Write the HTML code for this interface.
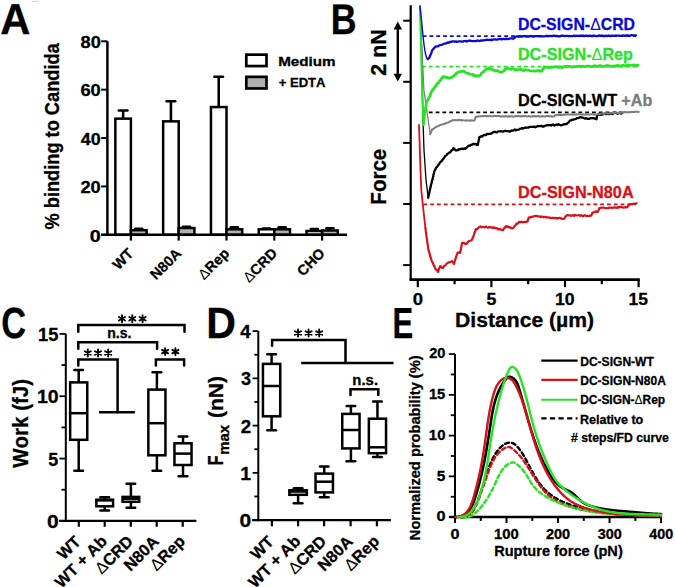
<!DOCTYPE html>
<html><head><meta charset="utf-8"><style>
html,body{margin:0;padding:0;background:#fff;}
svg{display:block;}
text{font-family:"Liberation Sans",sans-serif;font-weight:bold;font-kerning:none;}
</style></head><body>
<svg width="675" height="587" viewBox="0 0 675 587">
<rect width="675" height="587" fill="#fff"/>
<text style="text-rendering:geometricPrecision" transform="translate(1.40,33.90)" x="-1.04" y="0" font-size="43.30" textLength="30.14" lengthAdjust="spacingAndGlyphs" fill="#000" stroke="#000" stroke-width="0.3"><tspan>A</tspan></text>
<line x1="107.40" y1="41.30" x2="107.40" y2="234.80" stroke="#000" stroke-width="2.5" stroke-linecap="butt"/>
<line x1="101.20" y1="234.80" x2="107.40" y2="234.80" stroke="#000" stroke-width="2" stroke-linecap="butt"/>
<line x1="101.20" y1="186.42" x2="107.40" y2="186.42" stroke="#000" stroke-width="2" stroke-linecap="butt"/>
<line x1="101.20" y1="138.05" x2="107.40" y2="138.05" stroke="#000" stroke-width="2" stroke-linecap="butt"/>
<line x1="101.20" y1="89.67" x2="107.40" y2="89.67" stroke="#000" stroke-width="2" stroke-linecap="butt"/>
<line x1="101.20" y1="41.30" x2="107.40" y2="41.30" stroke="#000" stroke-width="2" stroke-linecap="butt"/>
<text transform="translate(90.60,241.58)" x="-0.78" y="0" font-size="17.10" textLength="10.99" lengthAdjust="spacingAndGlyphs" fill="#000" stroke="#000" stroke-width="0.3"><tspan>0</tspan></text>
<text transform="translate(81.10,193.21)" x="-0.63" y="0" font-size="17.10" textLength="20.28" lengthAdjust="spacingAndGlyphs" fill="#000" stroke="#000" stroke-width="0.3"><tspan>20</tspan></text>
<text transform="translate(81.10,144.83)" x="-0.27" y="0" font-size="17.10" textLength="19.90" lengthAdjust="spacingAndGlyphs" fill="#000" stroke="#000" stroke-width="0.3"><tspan>40</tspan></text>
<text transform="translate(81.10,96.45)" x="-0.67" y="0" font-size="17.10" textLength="20.32" lengthAdjust="spacingAndGlyphs" fill="#000" stroke="#000" stroke-width="0.3"><tspan>60</tspan></text>
<text transform="translate(81.10,48.08)" x="-0.58" y="0" font-size="17.10" textLength="20.22" lengthAdjust="spacingAndGlyphs" fill="#000" stroke="#000" stroke-width="0.3"><tspan>80</tspan></text>
<text transform="translate(58.50,229.00) rotate(-90)" x="-0.45" y="0" font-size="19.70" textLength="186.14" lengthAdjust="spacingAndGlyphs" fill="#000" stroke="#000" stroke-width="0.3"><tspan>% binding to Candida</tspan></text>
<rect x="115.35" y="118.65" width="15.55" height="116.15" fill="#fff" stroke="#000" stroke-width="2.5"/>
<rect x="130.90" y="230.20" width="15.70" height="4.60" fill="#b0b0b0" stroke="#000" stroke-width="2.5"/>
<line x1="123.12" y1="118.65" x2="123.12" y2="110.50" stroke="#000" stroke-width="2.6" stroke-linecap="butt"/>
<line x1="118.83" y1="110.50" x2="127.42" y2="110.50" stroke="#000" stroke-width="2.6" stroke-linecap="round"/>
<line x1="135.25" y1="228.90" x2="142.25" y2="228.90" stroke="#000" stroke-width="2.6" stroke-linecap="round"/>
<line x1="138.75" y1="230.20" x2="138.75" y2="228.90" stroke="#000" stroke-width="2.6" stroke-linecap="butt"/>
<rect x="163.15" y="121.35" width="15.55" height="113.45" fill="#fff" stroke="#000" stroke-width="2.5"/>
<rect x="178.70" y="228.00" width="15.70" height="6.80" fill="#b0b0b0" stroke="#000" stroke-width="2.5"/>
<line x1="170.92" y1="121.35" x2="170.92" y2="101.20" stroke="#000" stroke-width="2.6" stroke-linecap="butt"/>
<line x1="166.62" y1="101.20" x2="175.22" y2="101.20" stroke="#000" stroke-width="2.6" stroke-linecap="round"/>
<line x1="183.05" y1="226.90" x2="190.05" y2="226.90" stroke="#000" stroke-width="2.6" stroke-linecap="round"/>
<line x1="186.55" y1="228.00" x2="186.55" y2="226.90" stroke="#000" stroke-width="2.6" stroke-linecap="butt"/>
<rect x="210.95" y="107.05" width="15.55" height="127.75" fill="#fff" stroke="#000" stroke-width="2.5"/>
<rect x="226.50" y="229.30" width="15.70" height="5.50" fill="#b0b0b0" stroke="#000" stroke-width="2.5"/>
<line x1="218.72" y1="107.05" x2="218.72" y2="76.80" stroke="#000" stroke-width="2.6" stroke-linecap="butt"/>
<line x1="214.42" y1="76.80" x2="223.03" y2="76.80" stroke="#000" stroke-width="2.6" stroke-linecap="round"/>
<line x1="230.85" y1="227.30" x2="237.85" y2="227.30" stroke="#000" stroke-width="2.6" stroke-linecap="round"/>
<line x1="234.35" y1="229.30" x2="234.35" y2="227.30" stroke="#000" stroke-width="2.6" stroke-linecap="butt"/>
<rect x="258.75" y="229.30" width="15.55" height="5.50" fill="#fff" stroke="#000" stroke-width="2.5"/>
<rect x="274.30" y="229.30" width="15.70" height="5.50" fill="#b0b0b0" stroke="#000" stroke-width="2.5"/>
<line x1="266.52" y1="229.30" x2="266.52" y2="228.60" stroke="#000" stroke-width="2.6" stroke-linecap="butt"/>
<line x1="263.02" y1="228.60" x2="270.02" y2="228.60" stroke="#000" stroke-width="2.6" stroke-linecap="round"/>
<line x1="278.65" y1="227.30" x2="285.65" y2="227.30" stroke="#000" stroke-width="2.6" stroke-linecap="round"/>
<line x1="282.15" y1="229.30" x2="282.15" y2="227.30" stroke="#000" stroke-width="2.6" stroke-linecap="butt"/>
<rect x="306.55" y="231.00" width="15.55" height="3.80" fill="#fff" stroke="#000" stroke-width="2.5"/>
<rect x="322.10" y="230.50" width="15.70" height="4.30" fill="#b0b0b0" stroke="#000" stroke-width="2.5"/>
<line x1="314.33" y1="231.00" x2="314.33" y2="229.00" stroke="#000" stroke-width="2.6" stroke-linecap="butt"/>
<line x1="310.83" y1="229.00" x2="317.83" y2="229.00" stroke="#000" stroke-width="2.6" stroke-linecap="round"/>
<line x1="326.45" y1="228.20" x2="333.45" y2="228.20" stroke="#000" stroke-width="2.6" stroke-linecap="round"/>
<line x1="329.95" y1="230.50" x2="329.95" y2="228.20" stroke="#000" stroke-width="2.6" stroke-linecap="butt"/>
<line x1="101.20" y1="234.80" x2="347.00" y2="234.80" stroke="#000" stroke-width="2.5" stroke-linecap="butt"/>
<line x1="130.90" y1="234.80" x2="130.90" y2="240.60" stroke="#000" stroke-width="2.2" stroke-linecap="butt"/>
<line x1="178.70" y1="234.80" x2="178.70" y2="240.60" stroke="#000" stroke-width="2.2" stroke-linecap="butt"/>
<line x1="226.50" y1="234.80" x2="226.50" y2="240.60" stroke="#000" stroke-width="2.2" stroke-linecap="butt"/>
<line x1="274.30" y1="234.80" x2="274.30" y2="240.60" stroke="#000" stroke-width="2.2" stroke-linecap="butt"/>
<line x1="322.10" y1="234.80" x2="322.10" y2="240.60" stroke="#000" stroke-width="2.2" stroke-linecap="butt"/>
<text transform="translate(134.20,254.60) rotate(-45)" x="-22.39" y="0" font-size="14.50" textLength="22.54" lengthAdjust="spacingAndGlyphs" fill="#000" stroke="#000" stroke-width="0.3"><tspan>WT</tspan></text>
<text transform="translate(182.00,254.60) rotate(-45)" x="-36.69" y="0" font-size="14.50" textLength="37.07" lengthAdjust="spacingAndGlyphs" fill="#000" stroke="#000" stroke-width="0.3"><tspan>N80A</tspan></text>
<text transform="translate(229.80,254.60) rotate(-45)" x="-36.48" y="0" font-size="14.50" textLength="37.08" lengthAdjust="spacingAndGlyphs" fill="#000" stroke="#000" stroke-width="0.3"><tspan font-weight="normal" stroke-width="0.05">Δ</tspan><tspan>Rep</tspan></text>
<text transform="translate(277.60,254.60) rotate(-45)" x="-40.49" y="0" font-size="14.50" textLength="41.10" lengthAdjust="spacingAndGlyphs" fill="#000" stroke="#000" stroke-width="0.3"><tspan font-weight="normal" stroke-width="0.05">Δ</tspan><tspan>CRD</tspan></text>
<text transform="translate(325.40,254.60) rotate(-45)" x="-31.61" y="0" font-size="14.50" textLength="32.22" lengthAdjust="spacingAndGlyphs" fill="#000" stroke="#000" stroke-width="0.3"><tspan>CHO</tspan></text>
<rect x="246.30" y="54.65" width="20.20" height="11.40" fill="#fff" stroke="#000" stroke-width="2.7"/>
<rect x="246.30" y="76.85" width="20.20" height="11.60" fill="#b0b0b0" stroke="#000" stroke-width="2.7"/>
<text transform="translate(279.20,65.90)" x="-1.02" y="0" font-size="12.90" textLength="57.46" lengthAdjust="spacingAndGlyphs" fill="#000" stroke="#000" stroke-width="0.3"><tspan>Medium</tspan></text>
<text transform="translate(279.20,87.40)" x="-0.55" y="0" font-size="12.90" textLength="46.89" lengthAdjust="spacingAndGlyphs" fill="#000" stroke="#000" stroke-width="0.3"><tspan>+ EDTA</tspan></text>
<line x1="32.00" y1="1.50" x2="38.20" y2="1.50" stroke="#cfcfcf" stroke-width="1" stroke-linecap="butt"/>
<text style="text-rendering:geometricPrecision" transform="translate(333.10,33.70)" x="-2.39" y="0" font-size="43.00" textLength="25.81" lengthAdjust="spacingAndGlyphs" fill="#000" stroke="#000" stroke-width="0.3"><tspan>B</tspan></text>
<line x1="410.70" y1="5.20" x2="410.70" y2="280.60" stroke="#000" stroke-width="2.2" stroke-linecap="butt"/>
<line x1="403.20" y1="20.70" x2="410.70" y2="20.70" stroke="#000" stroke-width="2" stroke-linecap="butt"/>
<line x1="403.20" y1="81.80" x2="410.70" y2="81.80" stroke="#000" stroke-width="2" stroke-linecap="butt"/>
<line x1="403.20" y1="142.90" x2="410.70" y2="142.90" stroke="#000" stroke-width="2" stroke-linecap="butt"/>
<line x1="403.20" y1="204.00" x2="410.70" y2="204.00" stroke="#000" stroke-width="2" stroke-linecap="butt"/>
<line x1="403.20" y1="265.10" x2="410.70" y2="265.10" stroke="#000" stroke-width="2" stroke-linecap="butt"/>
<line x1="409.60" y1="279.60" x2="639.80" y2="279.60" stroke="#000" stroke-width="2.6" stroke-linecap="butt"/>
<line x1="417.80" y1="279.60" x2="417.80" y2="287.20" stroke="#000" stroke-width="2.2" stroke-linecap="butt"/>
<line x1="454.60" y1="279.60" x2="454.60" y2="284.20" stroke="#000" stroke-width="2.2" stroke-linecap="butt"/>
<line x1="491.40" y1="279.60" x2="491.40" y2="287.20" stroke="#000" stroke-width="2.2" stroke-linecap="butt"/>
<line x1="528.20" y1="279.60" x2="528.20" y2="284.20" stroke="#000" stroke-width="2.2" stroke-linecap="butt"/>
<line x1="565.00" y1="279.60" x2="565.00" y2="287.20" stroke="#000" stroke-width="2.2" stroke-linecap="butt"/>
<line x1="601.80" y1="279.60" x2="601.80" y2="284.20" stroke="#000" stroke-width="2.2" stroke-linecap="butt"/>
<line x1="638.60" y1="279.60" x2="638.60" y2="287.20" stroke="#000" stroke-width="2.2" stroke-linecap="butt"/>
<text transform="translate(413.40,304.60)" x="-0.73" y="0" font-size="17.00" textLength="10.29" lengthAdjust="spacingAndGlyphs" fill="#000" stroke="#000" stroke-width="0.3"><tspan>0</tspan></text>
<text transform="translate(487.00,304.60)" x="-0.54" y="0" font-size="17.00" textLength="9.84" lengthAdjust="spacingAndGlyphs" fill="#000" stroke="#000" stroke-width="0.3"><tspan>5</tspan></text>
<text transform="translate(556.10,304.60)" x="-1.11" y="0" font-size="17.00" textLength="19.64" lengthAdjust="spacingAndGlyphs" fill="#000" stroke="#000" stroke-width="0.3"><tspan>10</tspan></text>
<text transform="translate(629.70,304.60)" x="-1.10" y="0" font-size="17.00" textLength="19.38" lengthAdjust="spacingAndGlyphs" fill="#000" stroke="#000" stroke-width="0.3"><tspan>15</tspan></text>
<text transform="translate(456.50,327.00)" x="-1.41" y="0" font-size="20.30" textLength="138.97" lengthAdjust="spacingAndGlyphs" fill="#000" stroke="#000" stroke-width="0.3"><tspan>Distance (µm)</tspan></text>
<text transform="translate(386.00,203.30) rotate(-90)" x="-1.38" y="0" font-size="22.20" textLength="55.98" lengthAdjust="spacingAndGlyphs" fill="#000" stroke="#000" stroke-width="0.3"><tspan>Force</tspan></text>
<text transform="translate(386.00,74.90) rotate(-90)" x="-0.74" y="0" font-size="22.00" textLength="46.17" lengthAdjust="spacingAndGlyphs" fill="#000" stroke="#000" stroke-width="0.3"><tspan>2 nN</tspan></text>
<line x1="397.80" y1="27.00" x2="397.80" y2="76.00" stroke="#000" stroke-width="2.4" stroke-linecap="butt"/>
<path d="M397.8,21.6 L393.6,29.5 L402.0,29.5 Z M397.8,81.6 L393.6,73.7 L402.0,73.7 Z" fill="#000"/>
<line x1="422.70" y1="36.10" x2="636.00" y2="36.10" stroke="#0a0ad2" stroke-width="1.8" stroke-linecap="butt" stroke-dasharray="3.8 3"/>
<line x1="422.00" y1="66.60" x2="638.00" y2="66.60" stroke="#26e326" stroke-width="1.8" stroke-linecap="butt" stroke-dasharray="3.8 3"/>
<line x1="422.00" y1="112.40" x2="622.40" y2="112.40" stroke="#000" stroke-width="1.8" stroke-linecap="butt" stroke-dasharray="3.8 3"/>
<line x1="423.40" y1="204.40" x2="636.00" y2="204.40" stroke="#d8101a" stroke-width="1.8" stroke-linecap="butt" stroke-dasharray="3.8 3"/>
<polyline fill="none" stroke="#000" stroke-width="1.3" stroke-linejoin="round" stroke-linecap="round" points="420.00,6.10 422.00,60.00 422.70,112.00 424.00,150.00 426.00,180.00 428.20,197.70"/>
<polyline fill="none" stroke="#000" stroke-width="2.3" stroke-linejoin="round" stroke-linecap="round" points="428.20,197.70 428.46,196.35 428.72,195.00 428.98,194.46 429.24,192.63 429.50,192.04 429.73,190.81 429.97,189.40 430.20,188.91 430.43,187.31 430.67,186.75 430.90,185.28 431.13,184.28 431.37,183.64 431.60,183.09 431.85,181.26 432.09,180.39 432.34,179.88 432.58,179.27 432.83,177.84 433.07,176.63 433.32,176.34 433.56,174.23 433.81,174.21 434.05,172.54 434.30,171.37 434.73,170.39 435.15,169.67 435.57,169.33 436.00,167.62 436.80,167.10 437.60,166.17 438.40,164.85 439.08,164.24 439.76,162.84 440.44,162.01 441.12,161.37 441.80,161.12 442.48,159.90 443.17,158.84 443.85,158.25 444.53,157.18 445.22,156.08 445.90,155.75 446.72,154.96 447.54,153.73 448.36,153.45 449.18,152.71 450.00,152.45 450.85,151.43 451.70,150.05 452.55,150.03 453.40,148.14 454.53,149.20 455.67,150.31 456.80,150.28 457.82,150.16 458.85,149.10 459.88,149.33 460.90,148.92 462.07,148.69 463.25,149.05 464.43,148.38 465.60,148.83 466.45,147.86 467.30,147.00 468.15,146.00 469.00,145.61 470.13,145.50 471.27,144.70 472.40,144.70 473.53,143.74 474.67,144.28 475.80,143.98 476.85,144.74 477.90,144.89 478.13,143.11 478.37,142.10 478.60,141.30 478.83,139.39 479.07,138.79 479.30,137.30 480.25,136.79 481.20,136.27 482.15,136.67 483.10,135.46 484.05,135.15 485.00,134.87 485.98,135.14 486.96,133.88 487.94,134.01 488.92,133.82 489.90,133.91 490.88,133.52 491.86,133.27 492.84,132.25 493.82,132.11 494.80,131.73 495.86,132.30 496.91,132.33 497.97,131.31 499.03,131.28 500.09,131.29 501.14,131.24 502.20,131.48 503.26,131.55 504.31,131.10 505.37,130.73 506.43,131.17 507.49,131.06 508.54,131.24 509.60,131.64 510.64,131.11 511.68,130.68 512.72,130.58 513.76,130.43 514.80,129.46 515.84,130.26 516.88,129.90 517.92,129.79 518.96,129.48 520.00,128.77 521.02,128.64 522.04,128.15 523.06,128.65 524.08,127.82 525.09,127.69 526.11,127.73 527.13,127.53 528.15,127.61 529.17,127.13 530.19,126.93 531.21,126.97 532.22,126.77 533.24,126.95 534.26,126.41 535.28,127.29 536.30,126.84 537.36,126.17 538.41,126.19 539.47,126.20 540.53,126.11 541.59,125.71 542.64,126.48 543.70,126.54 544.76,125.80 545.81,125.72 546.87,125.13 547.93,125.04 548.99,125.23 550.04,125.02 551.10,125.59 552.16,124.74 553.21,124.51 554.27,125.57 555.33,125.01 556.39,124.49 557.44,124.91 558.50,124.23 559.56,124.78 560.61,125.26 561.67,125.06 562.73,124.81 563.79,124.23 564.84,124.30 565.90,124.00 566.76,124.00 567.61,122.98 568.47,122.55 569.33,121.28 570.19,120.42 571.04,120.40 571.90,119.88 572.91,119.54 573.92,119.29 574.94,119.12 575.95,118.84 576.96,118.03 577.98,118.20 578.99,117.81 580.00,117.23 581.03,117.30 582.06,117.66 583.09,117.70 584.12,118.28 585.16,118.66 586.19,118.11 587.22,118.76 588.25,118.89 589.28,118.91 590.31,118.26 591.34,118.15 592.38,118.22 593.41,118.25 594.44,118.32 595.47,118.89 596.50,119.28 596.67,118.21 596.85,116.78 597.03,115.98 597.20,115.16 598.30,114.18 599.40,114.74 600.50,114.92 601.60,114.64 602.70,114.48 603.80,114.02 604.90,113.54 606.00,114.15 607.02,113.54 608.05,114.05 609.08,114.20 610.10,113.45 611.12,113.40 612.15,114.00 613.17,113.68 614.20,112.95 615.23,112.85 616.25,112.82 617.27,113.67 618.30,113.49 619.32,112.64 620.35,113.40 621.38,113.53 622.40,112.90"/>
<polyline fill="none" stroke="#7c7c7c" stroke-width="1.3" stroke-linejoin="round" stroke-linecap="round" points="420.00,6.10 421.50,40.00 423.90,90.00 427.00,112.00 430.20,134.20"/>
<polyline fill="none" stroke="#7c7c7c" stroke-width="2" stroke-linejoin="round" stroke-linecap="round" points="430.20,134.20 430.60,133.37 431.00,132.22 431.40,131.41 431.80,130.18 432.20,129.16 433.13,129.16 434.07,128.27 435.00,127.52 435.90,127.30 436.80,126.45 437.70,126.26 438.80,125.89 439.90,125.13 441.00,124.83 441.98,124.54 442.96,124.18 443.94,124.10 444.92,123.55 445.90,123.34 446.93,122.68 447.97,122.75 449.00,121.90 449.93,121.47 450.85,121.06 451.77,120.78 452.70,119.94 453.74,120.34 454.79,120.09 455.83,120.15 456.87,120.19 457.91,119.88 458.96,120.22 460.00,120.08 461.00,119.98 462.00,120.56 463.00,120.15 464.00,120.38 465.00,120.58 466.00,120.49 467.00,120.35 468.00,120.51 469.08,120.56 470.17,120.73 471.25,120.27 472.33,120.61 473.42,120.41 474.50,120.44 474.82,119.77 475.15,118.56 475.48,117.57 475.80,116.68 476.82,116.72 477.84,116.33 478.87,116.38 479.89,116.24 480.91,116.18 481.93,116.23 482.96,116.00 483.98,115.99 485.00,115.88 486.00,116.24 487.00,116.09 488.00,116.24 489.00,116.32 490.00,115.87 491.00,116.10 492.00,116.40 493.00,116.35 494.00,115.89 495.00,115.90 496.00,116.15 497.00,115.92 498.00,116.07 499.00,115.97 500.00,116.42 501.00,116.50 502.00,116.58 503.00,116.06 504.00,116.45 505.00,116.41 506.00,116.05 507.00,116.57 508.00,116.63 509.00,116.10 510.00,116.62 511.00,116.23 512.00,116.29 513.00,116.64 514.00,116.53 515.00,116.06 516.00,116.25 517.00,116.31 518.00,116.19 519.00,116.09 520.00,116.17 521.00,116.46 522.00,115.96 523.00,116.34 524.00,116.26 525.00,115.96 526.00,116.18 527.00,116.39 528.00,116.31 529.00,116.00 530.00,116.64 531.00,116.50 532.00,116.63 533.00,116.02 534.00,116.14 535.00,115.98 536.00,116.50 537.00,116.14 538.00,116.04 539.00,116.25 540.00,116.59 541.00,116.52 542.00,116.13 543.00,116.05 544.00,116.59 545.00,116.35 546.00,116.44 547.00,116.01 548.00,115.99 549.00,116.43 550.00,116.25 551.00,116.00 552.00,116.61 553.00,116.39 554.00,116.51 555.00,115.36 556.00,115.25 557.00,114.68 558.00,115.21 559.00,114.91 560.00,114.80 561.00,114.93 562.00,115.17 563.00,114.69 564.00,114.57 565.00,114.83 566.00,114.61 567.00,114.50 568.00,114.51 569.00,114.41 570.00,114.50 571.00,114.56 572.00,114.53 573.00,114.83 574.00,114.48 575.00,114.60 576.00,114.36 577.00,114.46 578.00,114.20 579.00,114.35 580.00,114.16 581.00,114.65 582.00,114.51 583.00,114.25 584.00,114.44 585.00,114.75 586.00,114.15 587.00,114.64 588.00,114.36 589.00,114.39 590.00,114.62 591.00,114.30 592.00,114.36 593.00,114.48 594.00,114.67 595.00,114.21 596.00,114.54 597.00,114.44 598.00,114.31 599.00,114.06 600.00,113.94 601.00,113.65 602.00,113.62 603.00,113.49 604.00,113.88 605.00,113.45 606.00,113.30 607.00,113.16 608.00,113.61 609.00,113.54 610.00,113.32 611.00,112.99 612.00,112.91 613.00,112.90 614.00,112.96 615.00,112.69 616.00,112.84 617.00,112.66 618.00,113.10 619.00,113.05 620.00,112.70 621.00,112.43 622.00,112.89 623.00,112.37 624.00,112.35 625.00,112.05 626.05,112.28 627.11,112.31 628.16,112.29 629.22,112.04 630.27,112.21 631.32,111.82 632.38,111.97 633.43,111.81 634.48,111.98 635.54,111.69 636.59,111.64 637.65,111.80 638.70,111.90"/>
<polyline fill="none" stroke="#26e326" stroke-width="2" stroke-linejoin="round" stroke-linecap="round" points="420.00,6.10 421.30,60.00 422.50,100.00 423.40,124.70"/>
<polyline fill="none" stroke="#26e326" stroke-width="2.7" stroke-linejoin="round" stroke-linecap="round" points="423.40,124.70 423.52,123.30 423.64,122.65 423.77,121.50 423.89,120.69 424.01,119.50 424.13,118.49 424.26,117.61 424.38,115.95 424.50,114.79 424.65,114.58 424.80,112.58 424.95,112.27 425.10,111.17 425.25,109.45 425.40,109.40 425.55,108.47 425.70,107.15 425.85,106.28 426.00,105.37 426.20,103.54 426.40,102.98 426.60,101.93 426.80,101.30 427.47,100.33 428.13,99.43 428.80,98.20 429.24,97.55 429.68,96.28 430.12,95.27 430.56,93.70 431.00,92.44 431.52,91.68 432.04,91.07 432.56,89.89 433.08,89.88 433.60,88.67 434.40,87.72 435.20,86.68 436.00,85.72 436.75,84.56 437.50,83.05 438.25,83.08 439.00,82.10 439.67,81.00 440.33,80.24 441.00,79.59 441.67,78.08 442.33,78.08 443.00,76.70 444.00,76.61 445.00,76.97 446.00,77.65 447.00,77.15 448.07,77.84 449.15,78.17 450.23,77.64 451.30,77.56 452.23,76.87 453.15,76.32 454.07,75.62 455.00,74.64 455.90,74.09 456.80,72.83 457.70,72.34 458.60,71.88 459.50,71.89 460.52,71.37 461.55,71.68 462.58,71.01 463.60,71.07 464.57,71.71 465.54,72.58 466.51,72.99 467.49,73.35 468.46,73.28 469.43,73.93 470.40,74.26 471.42,74.51 472.45,74.34 473.48,75.52 474.50,74.94 475.52,76.12 476.55,76.32 477.58,75.47 478.60,76.25 479.40,75.92 480.20,75.34 481.00,73.95 481.80,72.97 482.60,72.14 483.40,72.26 484.20,70.62 485.00,70.30 486.00,69.22 487.00,69.13 488.00,69.09 489.00,67.56 490.00,68.80 491.00,68.84 492.00,69.71 493.00,69.91 494.00,69.76 495.00,70.98 496.00,70.78 497.00,70.53 498.00,70.80 499.00,71.69 500.00,71.94 501.00,72.06 502.00,72.17 502.78,71.66 503.57,70.88 504.35,70.76 505.13,69.00 505.92,69.15 506.70,68.51 507.74,67.82 508.77,68.96 509.81,68.88 510.85,69.28 511.89,68.72 512.92,69.00 513.96,69.20 515.00,70.10 516.00,69.67 517.00,69.47 518.00,69.61 519.00,69.50 520.00,69.29 521.00,69.42 522.00,70.37 523.00,69.78 524.00,70.62 525.00,69.87 526.00,69.95 527.00,70.31 528.00,69.99 529.00,70.28 530.00,71.05 531.00,71.00 532.00,70.96 533.00,70.78 534.00,71.16 535.00,71.24 536.00,70.81 537.00,71.06 538.00,70.29 539.00,71.15 540.00,70.86 541.00,71.26 542.00,71.17 542.50,69.84 543.00,68.66 543.50,68.81 544.00,66.95 545.00,67.34 546.00,67.16 547.00,67.08 548.00,67.59 549.00,67.85 550.00,66.96 551.00,67.41 552.00,66.96 553.00,67.24 554.00,67.02 555.00,66.73 556.00,66.69 557.00,66.72 558.00,67.54 559.00,67.02 560.00,66.66 561.00,67.46 562.00,67.55 563.00,66.86 564.00,66.47 565.00,66.51 566.00,66.36 567.00,66.64 568.00,66.31 569.00,66.46 570.00,66.46 571.00,66.81 572.00,67.16 573.00,66.97 574.00,66.55 575.00,66.52 576.00,66.63 577.00,66.43 578.00,66.36 579.00,66.00 580.00,66.23 581.00,67.04 582.00,66.00 583.00,66.43 584.00,66.56 585.00,66.81 586.00,66.01 587.00,66.05 588.00,66.00 589.00,66.15 590.00,66.19 591.00,66.77 592.00,66.62 593.00,66.62 594.00,65.58 595.00,65.56 596.00,66.35 597.00,66.55 598.00,66.02 599.00,66.13 600.00,65.40 601.00,65.86 602.00,66.49 603.00,66.36 604.00,66.39 605.00,66.52 606.00,65.64 607.00,65.46 608.00,65.51 609.00,65.94 610.00,66.12 611.00,66.42 612.00,66.15 613.00,66.05 614.00,66.18 615.00,65.80 616.00,65.90 617.00,65.28 618.00,66.16 619.00,65.49 620.00,66.30 621.00,65.94 622.00,65.50 623.00,65.25 624.00,65.37 625.00,65.80 626.00,65.84 627.00,65.10 628.00,65.02 629.00,65.53 630.00,65.57 631.00,65.30 632.00,65.07 633.00,65.49 634.00,64.75 635.00,65.06 636.00,65.22 637.00,65.78 638.00,65.20"/>
<polyline fill="none" stroke="#0a0ad2" stroke-width="1.4" stroke-linejoin="round" stroke-linecap="round" points="420.00,6.10 421.50,20.00 423.00,36.00 424.20,46.00 425.30,53.00 426.50,57.50 427.70,59.00"/>
<polyline fill="none" stroke="#0a0ad2" stroke-width="2.3" stroke-linejoin="round" stroke-linecap="round" points="427.70,59.00 429.00,58.10 429.50,57.27 430.00,55.98 430.50,54.81 430.88,53.82 431.25,53.32 431.62,52.14 432.00,50.87 432.67,49.67 433.33,49.00 434.00,48.12 435.00,47.19 436.00,46.33 437.00,46.37 438.00,46.30 439.00,45.56 440.00,45.17 441.00,44.99 442.00,44.64 443.00,44.43 444.00,43.69 445.00,43.71 446.05,43.35 447.10,42.87 448.15,42.34 449.20,42.56 450.25,41.78 451.30,41.82 452.39,41.40 453.48,41.38 454.56,41.74 455.65,41.41 456.74,41.85 457.82,41.52 458.91,41.29 460.00,41.31 461.00,41.39 462.00,41.52 463.00,41.66 464.00,41.05 465.00,41.18 466.00,41.00 467.00,41.48 468.00,40.85 469.00,40.74 470.00,40.69 471.00,40.90 472.00,41.22 473.00,41.18 474.00,41.04 475.00,41.20 476.00,41.12 477.00,40.67 478.00,40.54 479.00,41.04 480.00,40.87 481.06,40.29 482.11,40.64 483.17,40.36 484.23,40.27 485.29,40.15 486.34,39.95 487.40,39.75 488.46,39.86 489.51,39.82 490.57,40.16 491.63,39.49 492.69,40.00 493.74,39.38 494.80,39.40 495.82,39.68 496.84,39.63 497.86,39.30 498.88,38.98 499.90,39.23 500.92,39.11 501.94,39.44 502.96,38.89 503.98,38.95 505.00,39.28 506.00,38.62 507.00,38.83 508.00,39.05 509.00,38.96 510.00,38.40 511.00,38.34 512.00,38.30 513.00,38.85 514.00,38.33 514.75,37.67 515.50,36.78 516.54,36.37 517.57,36.31 518.61,36.78 519.64,36.52 520.68,36.26 521.71,36.57 522.75,36.27 523.79,36.23 524.82,36.02 525.86,36.54 526.89,36.63 527.93,36.42 528.96,36.62 530.00,35.97 531.00,36.10 532.00,36.26 533.00,36.59 534.00,36.58 535.00,36.17 536.00,36.07 537.00,36.18 538.00,36.22 539.00,36.51 540.00,35.98 541.00,36.40 542.00,36.35 543.00,36.40 544.00,36.35 545.00,36.23 546.00,36.02 547.00,36.00 548.00,36.02 549.00,36.31 550.00,35.81 551.00,35.88 552.00,36.26 553.00,35.89 554.00,35.76 555.00,35.72 556.00,36.08 557.00,35.91 558.00,36.36 559.00,36.28 560.00,36.34 561.00,35.83 562.00,35.70 563.00,35.70 564.00,35.97 565.00,36.11 566.00,35.92 567.00,35.77 568.00,35.89 569.00,36.02 570.00,36.06 571.00,36.10 572.00,36.16 573.00,36.03 574.00,35.64 575.00,36.14 576.00,35.75 577.00,35.93 578.00,35.79 579.00,36.04 580.00,35.66 581.00,35.68 582.00,35.68 583.00,35.60 584.00,36.11 585.00,35.89 586.00,35.71 587.00,35.75 588.00,36.16 589.00,35.81 590.00,35.61 591.00,36.02 592.00,35.91 593.00,36.14 594.00,35.52 595.00,35.78 596.00,36.02 597.00,36.04 598.00,36.09 599.00,35.48 600.00,35.66 601.00,35.53 602.00,35.58 603.00,36.13 604.00,35.86 605.00,36.10 606.00,35.71 607.00,36.06 608.00,35.76 609.00,35.63 610.00,35.99 611.00,36.11 612.00,35.52 613.00,35.87 614.00,35.88 615.00,35.60 616.00,35.71 617.00,35.55 618.00,35.59 619.00,35.63 620.00,35.87 621.00,35.88 622.00,35.54 623.00,35.38 624.00,35.58 625.00,35.80 626.00,35.43 627.00,35.49 628.00,35.39 629.00,35.78 630.00,35.58 631.00,35.22 632.00,35.22 633.00,35.40 634.00,35.49 635.00,35.52 636.00,35.40"/>
<polyline fill="none" stroke="#d8101a" stroke-width="1.8" stroke-linejoin="round" stroke-linecap="round" points="419.00,125.00 420.50,170.00 421.30,190.00 422.70,203.60 425.40,228.10"/>
<polyline fill="none" stroke="#d8101a" stroke-width="2.2" stroke-linejoin="round" stroke-linecap="round" points="425.40,228.10 425.54,228.68 425.68,229.78 425.82,231.39 425.96,232.10 426.10,232.99 426.24,234.04 426.38,235.77 426.52,236.09 426.66,237.40 426.80,238.19 426.94,239.28 427.08,240.80 427.22,241.97 427.36,242.30 427.50,243.14 427.64,244.75 427.78,245.20 427.92,246.01 428.06,248.02 428.20,248.52 428.48,249.97 428.77,250.53 429.05,252.07 429.33,252.62 429.62,253.31 429.90,254.17 430.18,255.77 430.47,256.89 430.75,258.20 431.03,258.31 431.32,259.92 431.60,260.66 432.06,261.72 432.51,262.23 432.97,263.29 433.42,264.47 433.88,265.82 434.33,265.84 434.79,267.17 435.24,268.42 435.70,269.51 436.43,269.53 437.17,270.32 437.90,272.09 438.32,271.12 438.73,269.58 439.15,268.11 439.57,268.07 439.98,266.48 440.40,266.04 441.10,266.63 441.80,267.76 442.50,267.93 443.18,267.81 443.86,266.39 444.54,265.79 445.22,265.48 445.90,264.66 446.93,263.35 447.97,262.79 449.00,262.39 450.00,262.19 451.00,261.71 452.00,261.09 453.00,262.27 454.00,263.85 454.32,263.05 454.64,261.11 454.95,260.70 455.27,259.92 455.59,258.14 455.91,258.03 456.23,256.24 456.55,255.78 456.86,254.74 457.18,253.83 457.50,252.49 458.85,252.61 460.20,252.79 460.40,251.60 460.60,250.83 460.80,249.58 461.00,248.55 461.20,247.08 461.40,246.71 461.60,245.55 461.80,244.25 462.00,243.81 462.20,242.81 463.23,242.95 464.25,243.15 465.27,243.97 466.30,244.07 466.98,243.24 467.65,242.72 468.32,241.50 469.00,241.04 470.40,240.76 471.80,239.89 472.23,239.42 472.67,237.67 473.10,237.26 473.49,236.23 473.87,234.87 474.26,233.30 474.64,232.72 475.03,231.51 475.41,231.07 475.80,229.10 476.68,229.22 477.55,228.70 478.43,227.73 479.30,227.15 480.44,226.46 481.58,227.33 482.72,226.79 483.86,227.30 485.00,227.26 486.09,226.54 487.18,227.34 488.27,227.61 489.36,226.77 490.44,227.19 491.53,227.75 492.62,227.20 493.71,228.13 494.80,227.55 495.82,228.47 496.85,228.06 497.88,228.78 498.90,229.56 499.93,229.10 500.95,229.49 501.98,230.08 503.00,230.20 503.58,229.01 504.16,228.29 504.74,227.39 505.32,227.36 505.90,226.20 506.86,226.79 507.81,226.35 508.77,227.38 509.73,227.01 510.69,227.82 511.64,228.29 512.60,228.35 513.35,227.99 514.10,226.71 514.85,225.81 515.60,225.22 516.52,223.64 517.45,223.89 518.38,222.77 519.30,221.78 520.31,222.23 521.32,221.64 522.34,222.44 523.35,221.99 524.36,221.75 525.38,222.19 526.39,221.84 527.40,221.54 527.70,221.21 528.00,219.48 528.30,219.37 528.60,217.79 528.90,217.25 530.01,217.52 531.12,216.97 532.24,216.94 533.35,216.44 534.46,215.99 535.57,215.91 536.69,215.93 537.80,216.33 538.79,216.29 539.78,216.55 540.77,217.14 541.76,216.46 542.74,216.73 543.73,217.37 544.72,216.84 545.71,216.99 546.70,217.54 547.74,217.32 548.78,217.65 549.82,217.56 550.86,218.00 551.91,218.06 552.95,217.69 553.99,218.21 555.03,218.10 556.07,217.77 557.11,218.71 558.15,218.00 559.19,217.95 560.24,217.94 561.28,218.59 562.32,218.90 563.36,218.86 564.40,218.49 564.98,217.49 565.55,216.36 566.12,216.21 566.70,215.27 567.72,215.07 568.75,215.42 569.77,215.23 570.79,215.80 571.82,215.61 572.84,215.11 573.86,215.86 574.88,214.94 575.91,215.51 576.93,215.40 577.95,215.25 578.98,215.08 580.00,215.91 581.03,215.09 582.05,215.71 583.08,216.17 584.11,215.32 585.14,215.41 586.16,215.88 587.19,215.80 588.22,215.97 589.25,216.19 590.27,215.51 591.30,215.69 591.80,214.45 592.30,212.94 592.80,212.63 593.84,212.37 594.88,212.16 595.92,211.24 596.96,212.02 598.00,211.77 598.47,210.36 598.93,209.57 599.40,208.15 600.41,207.86 601.41,207.68 602.42,207.78 603.43,207.52 604.44,207.80 605.44,208.22 606.45,208.11 607.46,208.24 608.46,208.05 609.47,207.51 610.48,207.79 611.49,207.62 612.49,207.96 613.50,207.63 614.51,207.30 615.51,207.67 616.52,207.98 617.53,207.12 618.54,207.80 619.54,206.81 620.55,207.04 621.56,206.97 622.56,207.48 623.57,207.66 624.58,207.40 625.59,206.90 626.59,207.46 627.60,206.81 628.10,205.75 628.60,205.51 629.10,204.24 630.16,204.20 631.21,204.05 632.27,204.28 633.33,203.61 634.39,203.90 635.44,203.63 636.50,203.30"/>
<text transform="translate(519.00,29.70)" x="-1.06" y="0" font-size="17.10" textLength="117.13" lengthAdjust="spacingAndGlyphs" fill="#0a0ad2" stroke="#0a0ad2" stroke-width="0.3"><tspan>DC-SIGN-</tspan><tspan font-weight="normal" stroke-width="0.05">Δ</tspan><tspan>CRD</tspan></text>
<text transform="translate(519.00,60.30)" x="-1.08" y="0" font-size="17.00" textLength="115.05" lengthAdjust="spacingAndGlyphs" fill="#26e326" stroke="#26e326" stroke-width="0.3"><tspan>DC-SIGN-</tspan><tspan font-weight="normal" stroke-width="0.05">Δ</tspan><tspan>Rep</tspan></text>
<text transform="translate(519.00,105.80)" x="-1.09" y="0" font-size="17.00" textLength="99.16" lengthAdjust="spacingAndGlyphs" fill="#000" stroke="#000" stroke-width="0.3"><tspan>DC-SIGN-WT</tspan></text>
<text transform="translate(622.00,105.80)" x="-0.68" y="0" font-size="17.00" textLength="30.94" lengthAdjust="spacingAndGlyphs" fill="#7c7c7c" stroke="#7c7c7c" stroke-width="0.3"><tspan>+Ab</tspan></text>
<text transform="translate(519.10,197.80)" x="-1.09" y="0" font-size="17.20" textLength="115.62" lengthAdjust="spacingAndGlyphs" fill="#d8101a" stroke="#d8101a" stroke-width="0.3"><tspan>DC-SIGN-N80A</tspan></text>
<text style="text-rendering:geometricPrecision" transform="translate(2.70,338.40)" x="-1.41" y="0" font-size="43.80" textLength="24.85" lengthAdjust="spacingAndGlyphs" fill="#000" stroke="#000" stroke-width="0.3"><tspan>C</tspan></text>
<line x1="65.80" y1="333.89" x2="65.80" y2="521.80" stroke="#000" stroke-width="2" stroke-linecap="butt"/>
<line x1="59.50" y1="520.90" x2="65.80" y2="520.90" stroke="#000" stroke-width="1.8" stroke-linecap="butt"/>
<line x1="61.50" y1="489.73" x2="65.80" y2="489.73" stroke="#000" stroke-width="1.8" stroke-linecap="butt"/>
<line x1="59.50" y1="458.56" x2="65.80" y2="458.56" stroke="#000" stroke-width="1.8" stroke-linecap="butt"/>
<line x1="61.50" y1="427.40" x2="65.80" y2="427.40" stroke="#000" stroke-width="1.8" stroke-linecap="butt"/>
<line x1="59.50" y1="396.23" x2="65.80" y2="396.23" stroke="#000" stroke-width="1.8" stroke-linecap="butt"/>
<line x1="61.50" y1="365.06" x2="65.80" y2="365.06" stroke="#000" stroke-width="1.8" stroke-linecap="butt"/>
<line x1="59.50" y1="333.89" x2="65.80" y2="333.89" stroke="#000" stroke-width="1.8" stroke-linecap="butt"/>
<text transform="translate(47.80,527.99)" x="-0.83" y="0" font-size="19.00" textLength="11.69" lengthAdjust="spacingAndGlyphs" fill="#000" stroke="#000" stroke-width="0.3"><tspan>0</tspan></text>
<text transform="translate(48.90,465.65)" x="-0.55" y="0" font-size="19.00" textLength="9.95" lengthAdjust="spacingAndGlyphs" fill="#000" stroke="#000" stroke-width="0.3"><tspan>5</tspan></text>
<text transform="translate(38.10,403.32)" x="-1.23" y="0" font-size="19.00" textLength="21.73" lengthAdjust="spacingAndGlyphs" fill="#000" stroke="#000" stroke-width="0.3"><tspan>10</tspan></text>
<text transform="translate(39.10,340.98)" x="-1.15" y="0" font-size="19.00" textLength="20.36" lengthAdjust="spacingAndGlyphs" fill="#000" stroke="#000" stroke-width="0.3"><tspan>15</tspan></text>
<text transform="translate(27.80,467.70) rotate(-90)" x="-0.02" y="0" font-size="21.80" textLength="88.74" lengthAdjust="spacingAndGlyphs" fill="#000" stroke="#000" stroke-width="0.3"><tspan>Work (fJ)</tspan></text>
<line x1="59.10" y1="520.90" x2="196.40" y2="520.90" stroke="#000" stroke-width="2.4" stroke-linecap="butt"/>
<line x1="78.80" y1="520.90" x2="78.80" y2="526.80" stroke="#000" stroke-width="2.2" stroke-linecap="butt"/>
<line x1="104.70" y1="520.90" x2="104.70" y2="526.80" stroke="#000" stroke-width="2.2" stroke-linecap="butt"/>
<line x1="130.80" y1="520.90" x2="130.80" y2="526.80" stroke="#000" stroke-width="2.2" stroke-linecap="butt"/>
<line x1="156.70" y1="520.90" x2="156.70" y2="526.80" stroke="#000" stroke-width="2.2" stroke-linecap="butt"/>
<line x1="182.70" y1="520.90" x2="182.70" y2="526.80" stroke="#000" stroke-width="2.2" stroke-linecap="butt"/>
<line x1="78.70" y1="370.10" x2="78.70" y2="382.40" stroke="#000" stroke-width="2.5" stroke-linecap="butt"/>
<line x1="78.70" y1="439.80" x2="78.70" y2="470.70" stroke="#000" stroke-width="2.5" stroke-linecap="butt"/>
<line x1="74.40" y1="370.10" x2="83.00" y2="370.10" stroke="#000" stroke-width="2.5" stroke-linecap="round"/>
<line x1="74.40" y1="470.70" x2="83.00" y2="470.70" stroke="#000" stroke-width="2.5" stroke-linecap="round"/>
<rect x="70.15" y="382.40" width="17.10" height="57.40" fill="#fff" stroke="#000" stroke-width="2.5"/>
<line x1="70.15" y1="413.20" x2="87.25" y2="413.20" stroke="#000" stroke-width="2.5" stroke-linecap="butt"/>
<line x1="104.70" y1="497.20" x2="104.70" y2="499.70" stroke="#000" stroke-width="2.5" stroke-linecap="butt"/>
<line x1="104.70" y1="506.30" x2="104.70" y2="510.40" stroke="#000" stroke-width="2.5" stroke-linecap="butt"/>
<line x1="100.40" y1="497.20" x2="109.00" y2="497.20" stroke="#000" stroke-width="2.5" stroke-linecap="round"/>
<line x1="100.40" y1="510.40" x2="109.00" y2="510.40" stroke="#000" stroke-width="2.5" stroke-linecap="round"/>
<rect x="96.35" y="499.70" width="16.70" height="6.60" fill="#fff" stroke="#000" stroke-width="2.5"/>
<line x1="96.35" y1="500.40" x2="113.05" y2="500.40" stroke="#000" stroke-width="2.5" stroke-linecap="butt"/>
<line x1="130.90" y1="483.80" x2="130.90" y2="496.90" stroke="#000" stroke-width="2.5" stroke-linecap="butt"/>
<line x1="130.90" y1="501.80" x2="130.90" y2="507.70" stroke="#000" stroke-width="2.5" stroke-linecap="butt"/>
<line x1="126.60" y1="483.80" x2="135.20" y2="483.80" stroke="#000" stroke-width="2.5" stroke-linecap="round"/>
<line x1="126.60" y1="507.70" x2="135.20" y2="507.70" stroke="#000" stroke-width="2.5" stroke-linecap="round"/>
<rect x="122.55" y="496.90" width="16.70" height="4.90" fill="#fff" stroke="#000" stroke-width="2.5"/>
<line x1="122.55" y1="498.70" x2="139.25" y2="498.70" stroke="#000" stroke-width="2.5" stroke-linecap="butt"/>
<line x1="156.90" y1="372.20" x2="156.90" y2="389.60" stroke="#000" stroke-width="2.5" stroke-linecap="butt"/>
<line x1="156.90" y1="455.30" x2="156.90" y2="470.70" stroke="#000" stroke-width="2.5" stroke-linecap="butt"/>
<line x1="152.60" y1="372.20" x2="161.20" y2="372.20" stroke="#000" stroke-width="2.5" stroke-linecap="round"/>
<line x1="152.60" y1="470.70" x2="161.20" y2="470.70" stroke="#000" stroke-width="2.5" stroke-linecap="round"/>
<rect x="148.35" y="389.60" width="17.10" height="65.70" fill="#fff" stroke="#000" stroke-width="2.5"/>
<line x1="148.35" y1="423.20" x2="165.45" y2="423.20" stroke="#000" stroke-width="2.5" stroke-linecap="butt"/>
<line x1="183.00" y1="436.40" x2="183.00" y2="443.30" stroke="#000" stroke-width="2.5" stroke-linecap="butt"/>
<line x1="183.00" y1="465.00" x2="183.00" y2="476.30" stroke="#000" stroke-width="2.5" stroke-linecap="butt"/>
<line x1="178.70" y1="436.40" x2="187.30" y2="436.40" stroke="#000" stroke-width="2.5" stroke-linecap="round"/>
<line x1="178.70" y1="476.30" x2="187.30" y2="476.30" stroke="#000" stroke-width="2.5" stroke-linecap="round"/>
<rect x="174.45" y="443.30" width="17.10" height="21.70" fill="#fff" stroke="#000" stroke-width="2.5"/>
<line x1="174.45" y1="453.60" x2="191.55" y2="453.60" stroke="#000" stroke-width="2.5" stroke-linecap="butt"/>
<polyline fill="none" stroke="#000" stroke-width="2.5" stroke-linejoin="miter" stroke-linecap="round" points="78.30,331.80 78.30,325.10 184.50,325.10 184.50,331.80"/>
<polyline fill="none" stroke="#000" stroke-width="2.5" stroke-linejoin="miter" stroke-linecap="round" points="78.30,348.80 78.30,342.20 157.10,342.20 157.10,348.80"/>
<polyline fill="none" stroke="#000" stroke-width="2.5" stroke-linejoin="miter" stroke-linecap="round" points="78.30,365.60 78.30,359.40 117.60,359.40 117.60,412.20"/>
<polyline fill="none" stroke="#000" stroke-width="2.5" stroke-linejoin="miter" stroke-linecap="round" points="155.90,365.60 155.90,359.40 184.10,359.40 184.10,365.60"/>
<line x1="99.00" y1="412.20" x2="134.90" y2="412.20" stroke="#000" stroke-width="2.5" stroke-linecap="butt"/>
<path d="M122.00,315.20L122.00,322.20M118.97,316.95L125.03,320.45M118.97,320.45L125.03,316.95" stroke="#000" stroke-width="1.9" stroke-linecap="round" fill="none"/>
<path d="M132.30,315.20L132.30,322.20M129.27,316.95L135.33,320.45M129.27,320.45L135.33,316.95" stroke="#000" stroke-width="1.9" stroke-linecap="round" fill="none"/>
<path d="M142.60,315.20L142.60,322.20M139.57,316.95L145.63,320.45M139.57,320.45L145.63,316.95" stroke="#000" stroke-width="1.9" stroke-linecap="round" fill="none"/>
<path d="M87.80,349.50L87.80,356.50M84.77,351.25L90.83,354.75M84.77,354.75L90.83,351.25" stroke="#000" stroke-width="1.9" stroke-linecap="round" fill="none"/>
<path d="M98.00,349.50L98.00,356.50M94.97,351.25L101.03,354.75M94.97,354.75L101.03,351.25" stroke="#000" stroke-width="1.9" stroke-linecap="round" fill="none"/>
<path d="M108.20,349.50L108.20,356.50M105.17,351.25L111.23,354.75M105.17,354.75L111.23,351.25" stroke="#000" stroke-width="1.9" stroke-linecap="round" fill="none"/>
<path d="M165.10,348.10L165.10,355.10M162.07,349.85L168.13,353.35M162.07,353.35L168.13,349.85" stroke="#000" stroke-width="1.9" stroke-linecap="round" fill="none"/>
<path d="M175.40,348.10L175.40,355.10M172.37,349.85L178.43,353.35M172.37,353.35L178.43,349.85" stroke="#000" stroke-width="1.9" stroke-linecap="round" fill="none"/>
<text transform="translate(108.10,338.00)" x="-0.93" y="0" font-size="15.00" textLength="24.30" lengthAdjust="spacingAndGlyphs" fill="#000" stroke="#000" stroke-width="0.3"><tspan>n.s.</tspan></text>
<text transform="translate(81.65,542.80) rotate(-45)" x="-25.17" y="0" font-size="16.30" textLength="25.34" lengthAdjust="spacingAndGlyphs" fill="#000" stroke="#000" stroke-width="0.3"><tspan>WT</tspan></text>
<text transform="translate(107.55,542.80) rotate(-45)" x="-64.98" y="0" font-size="16.30" textLength="65.65" lengthAdjust="spacingAndGlyphs" fill="#000" stroke="#000" stroke-width="0.3"><tspan>WT + Ab</tspan></text>
<text transform="translate(133.65,542.80) rotate(-45)" x="-45.52" y="0" font-size="16.30" textLength="46.20" lengthAdjust="spacingAndGlyphs" fill="#000" stroke="#000" stroke-width="0.3"><tspan font-weight="normal" stroke-width="0.05">Δ</tspan><tspan>CRD</tspan></text>
<text transform="translate(159.55,542.80) rotate(-45)" x="-41.24" y="0" font-size="16.30" textLength="41.67" lengthAdjust="spacingAndGlyphs" fill="#000" stroke="#000" stroke-width="0.3"><tspan>N80A</tspan></text>
<text transform="translate(185.55,542.80) rotate(-45)" x="-41.01" y="0" font-size="16.30" textLength="41.68" lengthAdjust="spacingAndGlyphs" fill="#000" stroke="#000" stroke-width="0.3"><tspan font-weight="normal" stroke-width="0.05">Δ</tspan><tspan>Rep</tspan></text>
<text style="text-rendering:geometricPrecision" transform="translate(209.10,338.40)" x="-2.75" y="0" font-size="43.70" textLength="29.67" lengthAdjust="spacingAndGlyphs" fill="#000" stroke="#000" stroke-width="0.3"><tspan>D</tspan></text>
<line x1="258.30" y1="331.10" x2="258.30" y2="521.20" stroke="#000" stroke-width="2" stroke-linecap="butt"/>
<line x1="252.60" y1="520.10" x2="258.30" y2="520.10" stroke="#000" stroke-width="1.8" stroke-linecap="butt"/>
<line x1="254.40" y1="496.48" x2="258.30" y2="496.48" stroke="#000" stroke-width="1.8" stroke-linecap="butt"/>
<line x1="252.60" y1="472.85" x2="258.30" y2="472.85" stroke="#000" stroke-width="1.8" stroke-linecap="butt"/>
<line x1="254.40" y1="449.23" x2="258.30" y2="449.23" stroke="#000" stroke-width="1.8" stroke-linecap="butt"/>
<line x1="252.60" y1="425.60" x2="258.30" y2="425.60" stroke="#000" stroke-width="1.8" stroke-linecap="butt"/>
<line x1="254.40" y1="401.98" x2="258.30" y2="401.98" stroke="#000" stroke-width="1.8" stroke-linecap="butt"/>
<line x1="252.60" y1="378.35" x2="258.30" y2="378.35" stroke="#000" stroke-width="1.8" stroke-linecap="butt"/>
<line x1="254.40" y1="354.73" x2="258.30" y2="354.73" stroke="#000" stroke-width="1.8" stroke-linecap="butt"/>
<line x1="252.60" y1="331.10" x2="258.30" y2="331.10" stroke="#000" stroke-width="1.8" stroke-linecap="butt"/>
<text transform="translate(240.40,527.20)" x="-0.83" y="0" font-size="19.20" textLength="11.69" lengthAdjust="spacingAndGlyphs" fill="#000" stroke="#000" stroke-width="0.3"><tspan>0</tspan></text>
<text transform="translate(241.40,479.95)" x="-1.22" y="0" font-size="19.20" textLength="10.76" lengthAdjust="spacingAndGlyphs" fill="#000" stroke="#000" stroke-width="0.3"><tspan>1</tspan></text>
<text transform="translate(241.40,432.70)" x="-0.65" y="0" font-size="19.20" textLength="10.40" lengthAdjust="spacingAndGlyphs" fill="#000" stroke="#000" stroke-width="0.3"><tspan>2</tspan></text>
<text transform="translate(241.40,385.45)" x="-0.42" y="0" font-size="19.20" textLength="10.07" lengthAdjust="spacingAndGlyphs" fill="#000" stroke="#000" stroke-width="0.3"><tspan>3</tspan></text>
<text transform="translate(240.40,338.20)" x="-0.28" y="0" font-size="19.20" textLength="10.38" lengthAdjust="spacingAndGlyphs" fill="#000" stroke="#000" stroke-width="0.3"><tspan>4</tspan></text>
<text transform="translate(222.80,464.30) rotate(-90)" x="-1.07" y="0" font-size="21.80" textLength="9.75" lengthAdjust="spacingAndGlyphs" fill="#000" stroke="#000" stroke-width="0.3"><tspan>F</tspan></text>
<text transform="translate(229.10,453.70) rotate(-90)" x="-0.98" y="0" font-size="14.40" textLength="29.69" lengthAdjust="spacingAndGlyphs" fill="#000" stroke="#000" stroke-width="0.3"><tspan>max</tspan></text>
<text transform="translate(222.90,417.00) rotate(-90)" x="-1.04" y="0" font-size="20.80" textLength="41.89" lengthAdjust="spacingAndGlyphs" fill="#000" stroke="#000" stroke-width="0.3"><tspan>(nN)</tspan></text>
<line x1="252.20" y1="520.10" x2="390.90" y2="520.10" stroke="#000" stroke-width="2.4" stroke-linecap="butt"/>
<line x1="271.90" y1="520.10" x2="271.90" y2="526.30" stroke="#000" stroke-width="2.2" stroke-linecap="butt"/>
<line x1="298.10" y1="520.10" x2="298.10" y2="526.30" stroke="#000" stroke-width="2.2" stroke-linecap="butt"/>
<line x1="324.10" y1="520.10" x2="324.10" y2="526.30" stroke="#000" stroke-width="2.2" stroke-linecap="butt"/>
<line x1="350.60" y1="520.10" x2="350.60" y2="526.30" stroke="#000" stroke-width="2.2" stroke-linecap="butt"/>
<line x1="376.90" y1="520.10" x2="376.90" y2="526.30" stroke="#000" stroke-width="2.2" stroke-linecap="butt"/>
<line x1="271.60" y1="354.20" x2="271.60" y2="363.90" stroke="#000" stroke-width="2.5" stroke-linecap="butt"/>
<line x1="271.60" y1="416.30" x2="271.60" y2="430.20" stroke="#000" stroke-width="2.5" stroke-linecap="butt"/>
<line x1="267.30" y1="354.20" x2="275.90" y2="354.20" stroke="#000" stroke-width="2.5" stroke-linecap="round"/>
<line x1="267.30" y1="430.20" x2="275.90" y2="430.20" stroke="#000" stroke-width="2.5" stroke-linecap="round"/>
<rect x="262.95" y="363.90" width="17.30" height="52.40" fill="#fff" stroke="#000" stroke-width="2.5"/>
<line x1="262.95" y1="386.00" x2="280.25" y2="386.00" stroke="#000" stroke-width="2.5" stroke-linecap="butt"/>
<line x1="298.10" y1="488.20" x2="298.10" y2="490.30" stroke="#000" stroke-width="2.5" stroke-linecap="butt"/>
<line x1="298.10" y1="494.80" x2="298.10" y2="503.30" stroke="#000" stroke-width="2.5" stroke-linecap="butt"/>
<line x1="293.80" y1="488.20" x2="302.40" y2="488.20" stroke="#000" stroke-width="2.5" stroke-linecap="round"/>
<line x1="293.80" y1="503.30" x2="302.40" y2="503.30" stroke="#000" stroke-width="2.5" stroke-linecap="round"/>
<rect x="289.35" y="490.30" width="17.50" height="4.50" fill="#fff" stroke="#000" stroke-width="2.5"/>
<line x1="289.35" y1="491.50" x2="306.85" y2="491.50" stroke="#000" stroke-width="2.5" stroke-linecap="butt"/>
<line x1="324.25" y1="466.60" x2="324.25" y2="473.60" stroke="#000" stroke-width="2.5" stroke-linecap="butt"/>
<line x1="324.25" y1="492.40" x2="324.25" y2="497.30" stroke="#000" stroke-width="2.5" stroke-linecap="butt"/>
<line x1="319.95" y1="466.60" x2="328.55" y2="466.60" stroke="#000" stroke-width="2.5" stroke-linecap="round"/>
<line x1="319.95" y1="497.30" x2="328.55" y2="497.30" stroke="#000" stroke-width="2.5" stroke-linecap="round"/>
<rect x="315.55" y="473.60" width="17.40" height="18.80" fill="#fff" stroke="#000" stroke-width="2.5"/>
<line x1="315.55" y1="481.70" x2="332.95" y2="481.70" stroke="#000" stroke-width="2.5" stroke-linecap="butt"/>
<line x1="350.90" y1="406.10" x2="350.90" y2="413.90" stroke="#000" stroke-width="2.5" stroke-linecap="butt"/>
<line x1="350.90" y1="448.40" x2="350.90" y2="461.30" stroke="#000" stroke-width="2.5" stroke-linecap="butt"/>
<line x1="346.60" y1="406.10" x2="355.20" y2="406.10" stroke="#000" stroke-width="2.5" stroke-linecap="round"/>
<line x1="346.60" y1="461.30" x2="355.20" y2="461.30" stroke="#000" stroke-width="2.5" stroke-linecap="round"/>
<rect x="342.25" y="413.90" width="17.30" height="34.50" fill="#fff" stroke="#000" stroke-width="2.5"/>
<line x1="342.25" y1="430.00" x2="359.55" y2="430.00" stroke="#000" stroke-width="2.5" stroke-linecap="butt"/>
<line x1="377.45" y1="401.40" x2="377.45" y2="418.70" stroke="#000" stroke-width="2.5" stroke-linecap="butt"/>
<line x1="377.45" y1="453.20" x2="377.45" y2="457.00" stroke="#000" stroke-width="2.5" stroke-linecap="butt"/>
<line x1="373.15" y1="401.40" x2="381.75" y2="401.40" stroke="#000" stroke-width="2.5" stroke-linecap="round"/>
<line x1="373.15" y1="457.00" x2="381.75" y2="457.00" stroke="#000" stroke-width="2.5" stroke-linecap="round"/>
<rect x="368.85" y="418.70" width="17.20" height="34.50" fill="#fff" stroke="#000" stroke-width="2.5"/>
<line x1="368.85" y1="447.30" x2="386.05" y2="447.30" stroke="#000" stroke-width="2.5" stroke-linecap="butt"/>
<polyline fill="none" stroke="#000" stroke-width="2.5" stroke-linejoin="miter" stroke-linecap="round" points="272.10,345.80 272.10,339.90 345.50,339.90 345.50,363.10"/>
<line x1="301.20" y1="363.10" x2="393.60" y2="363.10" stroke="#000" stroke-width="2.5" stroke-linecap="butt"/>
<polyline fill="none" stroke="#000" stroke-width="2.5" stroke-linejoin="miter" stroke-linecap="round" points="350.50,394.90 350.50,389.20 378.30,389.20 378.30,394.90"/>
<path d="M298.00,329.50L298.00,336.50M294.97,331.25L301.03,334.75M294.97,334.75L301.03,331.25" stroke="#000" stroke-width="1.9" stroke-linecap="round" fill="none"/>
<path d="M308.60,329.50L308.60,336.50M305.57,331.25L311.63,334.75M305.57,334.75L311.63,331.25" stroke="#000" stroke-width="1.9" stroke-linecap="round" fill="none"/>
<path d="M319.20,329.50L319.20,336.50M316.17,331.25L322.23,334.75M316.17,334.75L322.23,331.25" stroke="#000" stroke-width="1.9" stroke-linecap="round" fill="none"/>
<text transform="translate(353.30,384.90)" x="-0.98" y="0" font-size="15.00" textLength="25.71" lengthAdjust="spacingAndGlyphs" fill="#000" stroke="#000" stroke-width="0.3"><tspan>n.s.</tspan></text>
<text transform="translate(274.75,542.80) rotate(-45)" x="-25.17" y="0" font-size="16.30" textLength="25.34" lengthAdjust="spacingAndGlyphs" fill="#000" stroke="#000" stroke-width="0.3"><tspan>WT</tspan></text>
<text transform="translate(300.95,542.80) rotate(-45)" x="-64.98" y="0" font-size="16.30" textLength="65.65" lengthAdjust="spacingAndGlyphs" fill="#000" stroke="#000" stroke-width="0.3"><tspan>WT + Ab</tspan></text>
<text transform="translate(326.95,542.80) rotate(-45)" x="-45.52" y="0" font-size="16.30" textLength="46.20" lengthAdjust="spacingAndGlyphs" fill="#000" stroke="#000" stroke-width="0.3"><tspan font-weight="normal" stroke-width="0.05">Δ</tspan><tspan>CRD</tspan></text>
<text transform="translate(353.45,542.80) rotate(-45)" x="-41.24" y="0" font-size="16.30" textLength="41.67" lengthAdjust="spacingAndGlyphs" fill="#000" stroke="#000" stroke-width="0.3"><tspan>N80A</tspan></text>
<text transform="translate(379.75,542.80) rotate(-45)" x="-41.01" y="0" font-size="16.30" textLength="41.68" lengthAdjust="spacingAndGlyphs" fill="#000" stroke="#000" stroke-width="0.3"><tspan font-weight="normal" stroke-width="0.05">Δ</tspan><tspan>Rep</tspan></text>
<text style="text-rendering:geometricPrecision" transform="translate(394.50,338.40)" x="-2.07" y="0" font-size="43.50" textLength="20.69" lengthAdjust="spacingAndGlyphs" fill="#000" stroke="#000" stroke-width="0.3"><tspan>E</tspan></text>
<line x1="455.00" y1="354.10" x2="455.00" y2="517.80" stroke="#000" stroke-width="2" stroke-linecap="butt"/>
<line x1="448.80" y1="517.10" x2="455.00" y2="517.10" stroke="#000" stroke-width="1.8" stroke-linecap="butt"/>
<line x1="450.80" y1="496.73" x2="455.00" y2="496.73" stroke="#000" stroke-width="1.8" stroke-linecap="butt"/>
<line x1="448.80" y1="476.35" x2="455.00" y2="476.35" stroke="#000" stroke-width="1.8" stroke-linecap="butt"/>
<line x1="450.80" y1="455.98" x2="455.00" y2="455.98" stroke="#000" stroke-width="1.8" stroke-linecap="butt"/>
<line x1="448.80" y1="435.60" x2="455.00" y2="435.60" stroke="#000" stroke-width="1.8" stroke-linecap="butt"/>
<line x1="450.80" y1="415.23" x2="455.00" y2="415.23" stroke="#000" stroke-width="1.8" stroke-linecap="butt"/>
<line x1="448.80" y1="394.85" x2="455.00" y2="394.85" stroke="#000" stroke-width="1.8" stroke-linecap="butt"/>
<line x1="450.80" y1="374.48" x2="455.00" y2="374.48" stroke="#000" stroke-width="1.8" stroke-linecap="butt"/>
<line x1="448.80" y1="354.10" x2="455.00" y2="354.10" stroke="#000" stroke-width="1.8" stroke-linecap="butt"/>
<text transform="translate(437.10,521.38)" x="-0.64" y="0" font-size="14.20" textLength="9.00" lengthAdjust="spacingAndGlyphs" fill="#000" stroke="#000" stroke-width="0.3"><tspan>0</tspan></text>
<text transform="translate(437.10,480.63)" x="-0.48" y="0" font-size="14.20" textLength="8.61" lengthAdjust="spacingAndGlyphs" fill="#000" stroke="#000" stroke-width="0.3"><tspan>5</tspan></text>
<text transform="translate(429.80,439.88)" x="-0.94" y="0" font-size="14.20" textLength="16.55" lengthAdjust="spacingAndGlyphs" fill="#000" stroke="#000" stroke-width="0.3"><tspan>10</tspan></text>
<text transform="translate(429.80,399.13)" x="-0.92" y="0" font-size="14.20" textLength="16.33" lengthAdjust="spacingAndGlyphs" fill="#000" stroke="#000" stroke-width="0.3"><tspan>15</tspan></text>
<text transform="translate(429.80,358.38)" x="-0.50" y="0" font-size="14.20" textLength="16.10" lengthAdjust="spacingAndGlyphs" fill="#000" stroke="#000" stroke-width="0.3"><tspan>20</tspan></text>
<line x1="449.30" y1="517.00" x2="661.80" y2="517.00" stroke="#000" stroke-width="2.4" stroke-linecap="butt"/>
<line x1="455.00" y1="517.00" x2="455.00" y2="523.10" stroke="#000" stroke-width="2" stroke-linecap="butt"/>
<line x1="480.76" y1="517.00" x2="480.76" y2="520.90" stroke="#000" stroke-width="2" stroke-linecap="butt"/>
<line x1="506.52" y1="517.00" x2="506.52" y2="523.10" stroke="#000" stroke-width="2" stroke-linecap="butt"/>
<line x1="532.28" y1="517.00" x2="532.28" y2="520.90" stroke="#000" stroke-width="2" stroke-linecap="butt"/>
<line x1="558.04" y1="517.00" x2="558.04" y2="523.10" stroke="#000" stroke-width="2" stroke-linecap="butt"/>
<line x1="583.80" y1="517.00" x2="583.80" y2="520.90" stroke="#000" stroke-width="2" stroke-linecap="butt"/>
<line x1="609.56" y1="517.00" x2="609.56" y2="523.10" stroke="#000" stroke-width="2" stroke-linecap="butt"/>
<line x1="635.32" y1="517.00" x2="635.32" y2="520.90" stroke="#000" stroke-width="2" stroke-linecap="butt"/>
<line x1="661.08" y1="517.00" x2="661.08" y2="523.10" stroke="#000" stroke-width="2" stroke-linecap="butt"/>
<text transform="translate(451.15,539.05)" x="-0.64" y="0" font-size="14.00" textLength="9.00" lengthAdjust="spacingAndGlyphs" fill="#000" stroke="#000" stroke-width="0.3"><tspan>0</tspan></text>
<text transform="translate(494.97,539.05)" x="-0.93" y="0" font-size="14.00" textLength="24.64" lengthAdjust="spacingAndGlyphs" fill="#000" stroke="#000" stroke-width="0.3"><tspan>100</tspan></text>
<text transform="translate(546.49,539.05)" x="-0.50" y="0" font-size="14.00" textLength="24.20" lengthAdjust="spacingAndGlyphs" fill="#000" stroke="#000" stroke-width="0.3"><tspan>200</tspan></text>
<text transform="translate(598.01,539.05)" x="-0.33" y="0" font-size="14.00" textLength="24.02" lengthAdjust="spacingAndGlyphs" fill="#000" stroke="#000" stroke-width="0.3"><tspan>300</tspan></text>
<text transform="translate(649.53,539.05)" x="-0.22" y="0" font-size="14.00" textLength="23.90" lengthAdjust="spacingAndGlyphs" fill="#000" stroke="#000" stroke-width="0.3"><tspan>400</tspan></text>
<text transform="translate(495.20,555.80)" x="-0.97" y="0" font-size="14.00" textLength="128.50" lengthAdjust="spacingAndGlyphs" fill="#000" stroke="#000" stroke-width="0.3"><tspan>Rupture force (pN)</tspan></text>
<text transform="translate(420.40,539.20) rotate(-90)" x="-0.98" y="0" font-size="14.70" textLength="184.81" lengthAdjust="spacingAndGlyphs" fill="#000" stroke="#000" stroke-width="0.3"><tspan>Normalized probability (%)</tspan></text>
<line x1="541.30" y1="360.60" x2="577.60" y2="360.60" stroke="#000" stroke-width="2.1" stroke-linecap="butt"/>
<line x1="541.30" y1="379.90" x2="577.60" y2="379.90" stroke="#d8101a" stroke-width="2.1" stroke-linecap="butt"/>
<line x1="541.30" y1="399.80" x2="577.60" y2="399.80" stroke="#26e326" stroke-width="2.1" stroke-linecap="butt"/>
<line x1="541.30" y1="418.40" x2="577.60" y2="418.40" stroke="#000" stroke-width="2.1" stroke-linecap="butt" stroke-dasharray="5.2 3.4"/>
<text transform="translate(581.00,365.50)" x="-0.81" y="0" font-size="12.50" textLength="73.64" lengthAdjust="spacingAndGlyphs" fill="#000" stroke="#000" stroke-width="0.3"><tspan>DC-SIGN-WT</tspan></text>
<text transform="translate(581.00,384.60)" x="-0.81" y="0" font-size="12.50" textLength="85.72" lengthAdjust="spacingAndGlyphs" fill="#000" stroke="#000" stroke-width="0.3"><tspan>DC-SIGN-N80A</tspan></text>
<text transform="translate(581.00,404.20)" x="-0.80" y="0" font-size="12.50" textLength="84.89" lengthAdjust="spacingAndGlyphs" fill="#000" stroke="#000" stroke-width="0.3"><tspan>DC-SIGN-</tspan><tspan font-weight="normal" stroke-width="0.05">Δ</tspan><tspan>Rep</tspan></text>
<text transform="translate(580.80,423.50)" x="-0.84" y="0" font-size="12.30" textLength="63.22" lengthAdjust="spacingAndGlyphs" fill="#000" stroke="#000" stroke-width="0.3"><tspan>Relative to</tspan></text>
<text transform="translate(571.30,442.20)" x="-0.21" y="0" font-size="12.30" textLength="97.83" lengthAdjust="spacingAndGlyphs" fill="#000" stroke="#000" stroke-width="0.3"><tspan># steps/FD curve</tspan></text>
<polyline fill="none" stroke="#000" stroke-width="2.4" stroke-linejoin="round" stroke-linecap="round" stroke-dasharray="4 3" points="459.98,516.86 460.84,517.02 461.67,517.13 462.46,517.19 463.23,517.20 463.96,517.17 464.66,517.09 465.34,516.96 465.99,516.80 466.61,516.59 467.21,516.34 467.78,516.06 468.33,515.74 468.86,515.39 469.37,515.01 469.85,514.60 470.32,514.16 470.77,513.69 471.20,513.20 471.61,512.68 472.01,512.15 472.39,511.59 472.76,511.01 473.12,510.42 473.46,509.82 473.80,509.20 474.12,508.57 474.44,507.93 474.75,507.28 475.05,506.62 475.34,505.96 475.63,505.30 475.92,504.64 476.20,503.98 476.48,503.32 476.76,502.65 477.03,501.99 477.30,501.33 477.57,500.67 477.83,500.01 478.09,499.35 478.35,498.69 478.61,498.03 478.86,497.37 479.12,496.71 479.36,496.05 479.61,495.39 479.85,494.73 480.10,494.08 480.34,493.42 480.57,492.76 480.81,492.10 481.04,491.45 481.27,490.79 481.50,490.13 481.73,489.48 481.96,488.82 482.18,488.16 482.40,487.51 482.62,486.85 482.84,486.19 483.06,485.54 483.28,484.88 483.49,484.23 483.70,483.57 483.92,482.92 484.13,482.26 484.34,481.61 484.54,480.95 484.75,480.30 484.96,479.64 485.16,478.99 485.37,478.34 485.57,477.68 485.77,477.03 485.98,476.37 486.18,475.72 486.38,475.07 486.59,474.41 486.79,473.76 487.00,473.11 487.21,472.45 487.42,471.80 487.63,471.15 487.85,470.50 488.07,469.85 488.29,469.20 488.51,468.55 488.74,467.91 488.97,467.26 489.21,466.61 489.45,465.97 489.70,465.32 489.95,464.68 490.21,464.04 490.47,463.40 490.74,462.76 491.02,462.12 491.30,461.48 491.59,460.85 491.89,460.21 492.19,459.58 492.50,458.95 492.82,458.32 493.15,457.69 493.49,457.06 493.84,456.44 494.20,455.81 494.57,455.19 494.94,454.57 495.33,453.95 495.73,453.34 496.14,452.72 496.56,452.11 496.99,451.51 497.43,450.91 497.88,450.33 498.34,449.75 498.81,449.18 499.29,448.63 499.78,448.09 500.29,447.57 500.80,447.07 501.32,446.58 501.85,446.11 502.39,445.67 502.94,445.25 503.49,444.85 504.06,444.48 504.64,444.14 505.22,443.83 505.82,443.54 506.42,443.29 507.03,443.07 507.65,442.89 508.28,442.74 508.91,442.64 509.54,442.58 510.17,442.57 510.79,442.61 511.40,442.70 512.01,442.86 512.60,443.07 513.18,443.33 513.75,443.63 514.31,443.98 514.86,444.37 515.40,444.80 515.93,445.25 516.44,445.74 516.95,446.25 517.44,446.77 517.92,447.32 518.39,447.88 518.84,448.44 519.29,449.02 519.72,449.59 520.14,450.17 520.55,450.74 520.95,451.32 521.34,451.89 521.73,452.47 522.10,453.05 522.47,453.63 522.82,454.22 523.18,454.80 523.53,455.39 523.87,455.98 524.21,456.57 524.54,457.16 524.88,457.76 525.21,458.36 525.54,458.96 525.87,459.57 526.20,460.18 526.53,460.79 526.86,461.40 527.18,462.02 527.51,462.63 527.84,463.25 528.17,463.87 528.50,464.50 528.82,465.12 529.15,465.74 529.48,466.37 529.82,466.99 530.15,467.62 530.48,468.25 530.82,468.87 531.15,469.50 531.49,470.13 531.83,470.75 532.17,471.38 532.51,472.00 532.86,472.62 533.21,473.24 533.56,473.86 533.91,474.48 534.27,475.09 534.62,475.71 534.99,476.32 535.35,476.92 535.72,477.53 536.09,478.13 536.46,478.73 536.84,479.33 537.22,479.92 537.61,480.51 538.00,481.09 538.39,481.67 538.79,482.24 539.20,482.81 539.60,483.38 540.02,483.94 540.43,484.50 540.86,485.05 541.28,485.59 541.72,486.13 542.15,486.66 542.60,487.19 543.05,487.71 543.50,488.22 543.97,488.73 544.43,489.23 544.91,489.72 545.39,490.20 545.88,490.68 546.37,491.15 546.87,491.61 547.38,492.07 547.89,492.51 548.41,492.95 548.93,493.39 549.46,493.81 550.00,494.23 550.54,494.64 551.08,495.05 551.64,495.45 552.19,495.84 552.76,496.22 553.32,496.60 553.90,496.97 554.47,497.34 555.05,497.70 555.64,498.05 556.23,498.40 556.83,498.74 557.43,499.08 558.03,499.41 558.64,499.73 559.25,500.05 559.87,500.36 560.48,500.67 561.11,500.97 561.73,501.27 562.36,501.56 563.00,501.85 563.63,502.13 564.27,502.41 564.91,502.68 565.56,502.95 566.21,503.21 566.86,503.47 567.51,503.72 568.17,503.97 568.82,504.21 569.48,504.45 570.14,504.69 570.81,504.92 571.47,505.15 572.14,505.37 572.81,505.59 573.48,505.81 574.15,506.02 574.82,506.23 575.50,506.43 576.17,506.64 576.85,506.84 577.53,507.03 578.20,507.22 578.88,507.41 579.56,507.60 580.24,507.78 580.92,507.96 581.60,508.14 582.28,508.31 582.96,508.49 583.64,508.66 584.32,508.82 585.00,508.99 585.68,509.15 586.36,509.31 587.04,509.46 587.72,509.62 588.41,509.77 589.09,509.92 589.77,510.06 590.45,510.21 591.13,510.35 591.82,510.49 592.50,510.62 593.18,510.76 593.86,510.89 594.55,511.02 595.23,511.15 595.91,511.27 596.60,511.39 597.28,511.51 597.96,511.63 598.65,511.75 599.33,511.86 600.02,511.97 600.70,512.08 601.39,512.19 602.07,512.29 602.76,512.39 603.44,512.49 604.13,512.59 604.81,512.69 605.50,512.78 606.19,512.88 606.87,512.97 607.56,513.05 608.25,513.14 608.93,513.22 609.62,513.31 610.31,513.39 610.99,513.47 611.68,513.54 612.37,513.62 613.06,513.69 613.75,513.76 614.43,513.83 615.12,513.90 615.81,513.97 616.50,514.03 617.19,514.09 617.88,514.15 618.57,514.21 619.26,514.27 619.95,514.33 620.64,514.38 621.33,514.43 622.02,514.49 622.71,514.54 623.40,514.58 624.09,514.63 624.78,514.68 625.48,514.72 626.17,514.76 626.86,514.80 627.55,514.84 628.24,514.88 628.94,514.92 629.63,514.95 630.32,514.99 631.01,515.02 631.71,515.05 632.40,515.08 633.09,515.11 633.79,515.14 634.48,515.17 635.18,515.19 635.87,515.22 636.57,515.24 637.26,515.26 637.96,515.28 638.65,515.30 639.35,515.32 640.04,515.34 640.74,515.36 641.43,515.37 642.13,515.39 642.83,515.40 643.52,515.41 644.22,515.43 644.92,515.44 645.61,515.45 646.31,515.46 647.01,515.47 647.71,515.47 648.40,515.48 649.10,515.49 649.80,515.49 650.50,515.50 651.20,515.50 651.90,515.51 652.60,515.51 653.30,515.51 654.00,515.51 654.70,515.51 655.40,515.51 656.10,515.51 656.80,515.51 657.50,515.51 658.20,515.51 658.90,515.51 659.60,515.51 660.30,515.50 661.00,515.50"/>
<polyline fill="none" stroke="#d8101a" stroke-width="2.4" stroke-linejoin="round" stroke-linecap="round" stroke-dasharray="4 3" points="459.99,516.81 460.81,517.07 461.60,517.26 462.36,517.39 463.10,517.45 463.81,517.46 464.50,517.41 465.16,517.30 465.80,517.15 466.42,516.94 467.02,516.70 467.59,516.41 468.15,516.08 468.69,515.71 469.21,515.32 469.71,514.89 470.19,514.44 470.66,513.96 471.11,513.47 471.55,512.95 471.98,512.42 472.39,511.88 472.79,511.33 473.18,510.77 473.55,510.21 473.92,509.63 474.27,509.05 474.61,508.46 474.95,507.87 475.27,507.27 475.59,506.66 475.89,506.05 476.19,505.43 476.48,504.81 476.77,504.18 477.04,503.55 477.32,502.92 477.58,502.28 477.84,501.65 478.09,501.01 478.34,500.36 478.59,499.72 478.83,499.07 479.07,498.43 479.31,497.78 479.54,497.14 479.77,496.49 480.00,495.85 480.23,495.21 480.45,494.57 480.68,493.93 480.90,493.29 481.13,492.65 481.35,492.01 481.57,491.38 481.79,490.74 482.01,490.10 482.23,489.47 482.45,488.84 482.67,488.20 482.88,487.57 483.10,486.94 483.32,486.30 483.54,485.67 483.75,485.04 483.97,484.41 484.19,483.77 484.40,483.14 484.62,482.51 484.84,481.88 485.06,481.25 485.28,480.61 485.50,479.98 485.72,479.35 485.94,478.71 486.16,478.08 486.39,477.45 486.61,476.81 486.84,476.18 487.07,475.54 487.30,474.91 487.53,474.27 487.76,473.63 487.99,472.99 488.23,472.35 488.47,471.71 488.71,471.07 488.95,470.43 489.19,469.78 489.44,469.14 489.69,468.50 489.94,467.85 490.20,467.21 490.46,466.57 490.73,465.93 491.00,465.29 491.28,464.66 491.56,464.03 491.85,463.40 492.14,462.77 492.45,462.15 492.76,461.53 493.07,460.92 493.40,460.31 493.73,459.70 494.08,459.11 494.43,458.51 494.79,457.93 495.16,457.35 495.54,456.78 495.94,456.21 496.34,455.66 496.76,455.11 497.18,454.57 497.62,454.04 498.08,453.52 498.54,453.00 499.02,452.50 499.51,452.01 500.02,451.53 500.54,451.06 501.07,450.60 501.62,450.16 502.19,449.72 502.77,449.30 503.36,448.90 503.97,448.52 504.58,448.18 505.20,447.86 505.82,447.59 506.45,447.36 507.06,447.19 507.68,447.07 508.29,447.02 508.89,447.03 509.47,447.12 510.04,447.28 510.60,447.52 511.14,447.82 511.67,448.17 512.19,448.55 512.70,448.94 513.21,449.35 513.71,449.76 514.20,450.18 514.69,450.61 515.17,451.04 515.65,451.49 516.12,451.94 516.58,452.39 517.04,452.86 517.50,453.33 517.95,453.81 518.39,454.29 518.83,454.78 519.27,455.28 519.70,455.78 520.13,456.29 520.55,456.80 520.97,457.32 521.39,457.84 521.80,458.37 522.21,458.91 522.62,459.44 523.02,459.99 523.42,460.53 523.81,461.08 524.21,461.64 524.60,462.19 524.99,462.76 525.37,463.32 525.76,463.89 526.14,464.46 526.52,465.03 526.89,465.61 527.27,466.18 527.65,466.76 528.02,467.35 528.39,467.93 528.76,468.52 529.13,469.10 529.50,469.69 529.87,470.28 530.24,470.87 530.61,471.46 530.98,472.05 531.34,472.64 531.71,473.24 532.08,473.83 532.45,474.42 532.82,475.01 533.19,475.60 533.56,476.19 533.93,476.78 534.30,477.37 534.68,477.95 535.05,478.54 535.43,479.12 535.81,479.70 536.19,480.28 536.57,480.86 536.96,481.43 537.34,482.00 537.73,482.57 538.13,483.14 538.52,483.70 538.92,484.26 539.32,484.81 539.72,485.37 540.13,485.91 540.54,486.46 540.95,487.00 541.37,487.53 541.79,488.06 542.22,488.59 542.65,489.11 543.08,489.63 543.52,490.14 543.96,490.64 544.41,491.14 544.86,491.63 545.32,492.12 545.78,492.60 546.25,493.08 546.72,493.54 547.20,494.00 547.69,494.46 548.18,494.91 548.68,495.34 549.18,495.78 549.69,496.20 550.20,496.62 550.72,497.02 551.25,497.43 551.79,497.82 552.33,498.20 552.87,498.58 553.42,498.96 553.98,499.32 554.54,499.68 555.10,500.03 555.68,500.37 556.25,500.71 556.83,501.04 557.42,501.36 558.01,501.68 558.60,501.99 559.20,502.30 559.81,502.60 560.41,502.89 561.03,503.18 561.64,503.46 562.26,503.73 562.88,504.00 563.51,504.27 564.14,504.53 564.77,504.78 565.41,505.03 566.05,505.27 566.69,505.51 567.34,505.74 567.99,505.97 568.64,506.19 569.29,506.41 569.95,506.62 570.60,506.83 571.26,507.04 571.93,507.24 572.59,507.43 573.25,507.62 573.92,507.81 574.59,507.99 575.26,508.17 575.93,508.35 576.60,508.52 577.28,508.69 577.95,508.85 578.63,509.02 579.30,509.17 579.98,509.33 580.66,509.48 581.34,509.63 582.01,509.77 582.69,509.92 583.37,510.06 584.05,510.19 584.73,510.33 585.40,510.46 586.08,510.59 586.76,510.72 587.43,510.84 588.11,510.96 588.78,511.08 589.46,511.20 590.13,511.31 590.81,511.43 591.48,511.54 592.16,511.65 592.83,511.75 593.50,511.86 594.18,511.96 594.85,512.06 595.52,512.16 596.19,512.25 596.86,512.35 597.54,512.44 598.21,512.53 598.88,512.61 599.55,512.70 600.22,512.78 600.89,512.87 601.56,512.95 602.23,513.03 602.90,513.10 603.57,513.18 604.24,513.25 604.91,513.32 605.58,513.39 606.25,513.46 606.92,513.53 607.59,513.59 608.26,513.65 608.92,513.72 609.59,513.78 610.26,513.84 610.93,513.89 611.60,513.95 612.27,514.00 612.94,514.06 613.61,514.11 614.28,514.16 614.94,514.21 615.61,514.26 616.28,514.30 616.95,514.35 617.62,514.39 618.29,514.44 618.96,514.48 619.63,514.52 620.30,514.56 620.97,514.60 621.64,514.64 622.30,514.67 622.97,514.71 623.64,514.74 624.31,514.78 624.99,514.81 625.66,514.84 626.33,514.87 627.00,514.90 627.67,514.93 628.34,514.96 629.01,514.99 629.68,515.02 630.36,515.05 631.03,515.07 631.70,515.10 632.37,515.12 633.05,515.15 633.72,515.17 634.39,515.19 635.07,515.22 635.74,515.24 636.42,515.26 637.09,515.28 637.77,515.30 638.44,515.32 639.12,515.35 639.80,515.37 640.47,515.39 641.15,515.41 641.83,515.43 642.51,515.44 643.19,515.46 643.87,515.48 644.55,515.50 645.23,515.52 645.91,515.54 646.59,515.56 647.27,515.58 647.95,515.60 648.63,515.61 649.32,515.63 650.00,515.65 650.68,515.67 651.37,515.69 652.06,515.71 652.74,515.73 653.43,515.75 654.12,515.77 654.80,515.79 655.49,515.81 656.18,515.83 656.87,515.86 657.56,515.88 658.25,515.90 658.94,515.92 659.64,515.95 660.33,515.97 661.02,515.99"/>
<polyline fill="none" stroke="#26e326" stroke-width="2.4" stroke-linejoin="round" stroke-linecap="round" stroke-dasharray="4 3" points="462.02,517.03 462.67,517.19 463.31,517.31 463.95,517.40 464.57,517.45 465.19,517.46 465.80,517.45 466.41,517.40 467.00,517.32 467.59,517.21 468.17,517.07 468.74,516.91 469.31,516.72 469.86,516.51 470.41,516.27 470.96,516.00 471.49,515.72 472.02,515.42 472.54,515.10 473.05,514.76 473.56,514.40 474.06,514.03 474.55,513.64 475.04,513.24 475.52,512.82 475.99,512.40 476.46,511.97 476.92,511.52 477.37,511.07 477.82,510.61 478.26,510.15 478.69,509.69 479.12,509.22 479.54,508.74 479.96,508.27 480.37,507.80 480.78,507.32 481.18,506.85 481.57,506.37 481.96,505.90 482.35,505.42 482.72,504.94 483.10,504.46 483.47,503.97 483.83,503.49 484.19,503.00 484.55,502.52 484.90,502.03 485.24,501.54 485.58,501.05 485.92,500.55 486.25,500.06 486.58,499.56 486.91,499.06 487.23,498.56 487.55,498.05 487.87,497.55 488.18,497.04 488.49,496.53 488.79,496.01 489.09,495.50 489.39,494.98 489.69,494.46 489.98,493.93 490.27,493.40 490.56,492.87 490.85,492.34 491.13,491.81 491.42,491.27 491.70,490.72 491.97,490.18 492.25,489.63 492.53,489.08 492.80,488.52 493.07,487.96 493.34,487.40 493.61,486.83 493.88,486.26 494.14,485.69 494.41,485.11 494.67,484.53 494.94,483.95 495.20,483.36 495.47,482.78 495.74,482.19 496.00,481.60 496.27,481.01 496.54,480.42 496.81,479.83 497.09,479.24 497.36,478.66 497.64,478.07 497.92,477.49 498.21,476.91 498.50,476.34 498.79,475.76 499.09,475.20 499.39,474.63 499.69,474.08 500.00,473.53 500.32,472.98 500.64,472.44 500.97,471.91 501.30,471.39 501.65,470.87 501.99,470.36 502.35,469.87 502.71,469.38 503.08,468.90 503.46,468.43 503.84,467.97 504.24,467.53 504.64,467.09 505.06,466.67 505.48,466.26 505.91,465.87 506.35,465.49 506.81,465.12 507.27,464.76 507.75,464.43 508.23,464.10 508.73,463.80 509.24,463.51 509.75,463.25 510.27,463.02 510.80,462.82 511.33,462.65 511.87,462.53 512.40,462.45 512.94,462.43 513.47,462.45 513.99,462.53 514.52,462.68 515.03,462.88 515.54,463.16 516.04,463.48 516.53,463.84 517.02,464.24 517.50,464.67 517.98,465.11 518.46,465.56 518.93,466.01 519.39,466.46 519.85,466.91 520.31,467.37 520.76,467.82 521.21,468.29 521.65,468.75 522.08,469.22 522.51,469.69 522.93,470.16 523.34,470.64 523.74,471.13 524.14,471.62 524.52,472.12 524.90,472.62 525.26,473.13 525.62,473.65 525.97,474.17 526.31,474.70 526.64,475.23 526.96,475.77 527.28,476.31 527.60,476.85 527.91,477.40 528.22,477.95 528.53,478.49 528.84,479.04 529.15,479.58 529.46,480.12 529.77,480.66 530.08,481.20 530.40,481.73 530.73,482.26 531.06,482.78 531.40,483.29 531.75,483.80 532.10,484.29 532.46,484.79 532.83,485.27 533.21,485.75 533.59,486.22 533.98,486.69 534.38,487.15 534.79,487.60 535.20,488.04 535.61,488.48 536.04,488.92 536.47,489.34 536.90,489.76 537.34,490.18 537.79,490.59 538.24,490.99 538.70,491.39 539.17,491.78 539.63,492.17 540.11,492.55 540.59,492.92 541.07,493.29 541.56,493.65 542.05,494.01 542.55,494.37 543.06,494.71 543.56,495.06 544.07,495.39 544.59,495.73 545.11,496.06 545.63,496.38 546.16,496.70 546.68,497.01 547.22,497.32 547.75,497.63 548.29,497.93 548.84,498.23 549.38,498.52 549.93,498.81 550.48,499.09 551.03,499.37 551.59,499.65 552.15,499.92 552.71,500.19 553.27,500.45 553.83,500.71 554.40,500.97 554.96,501.22 555.53,501.48 556.10,501.72 556.67,501.97 557.24,502.21 557.82,502.44 558.39,502.68 558.97,502.91 559.54,503.14 560.12,503.36 560.69,503.59 561.27,503.81 561.85,504.02 562.43,504.24 563.01,504.45 563.59,504.66 564.17,504.86 564.75,505.06 565.34,505.26 565.92,505.46 566.50,505.65 567.09,505.85 567.67,506.03 568.26,506.22 568.85,506.40 569.43,506.58 570.02,506.76 570.61,506.94 571.20,507.11 571.79,507.28 572.38,507.45 572.97,507.62 573.56,507.78 574.16,507.94 574.75,508.10 575.34,508.25 575.94,508.41 576.53,508.56 577.13,508.70 577.72,508.85 578.32,508.99 578.92,509.14 579.51,509.28 580.11,509.41 580.71,509.55 581.31,509.68 581.91,509.81 582.51,509.94 583.11,510.06 583.71,510.19 584.31,510.31 584.91,510.43 585.52,510.55 586.12,510.66 586.72,510.78 587.33,510.89 587.93,511.00 588.53,511.10 589.14,511.21 589.74,511.31 590.35,511.42 590.96,511.52 591.56,511.61 592.17,511.71 592.78,511.80 593.39,511.90 593.99,511.99 594.60,512.08 595.21,512.17 595.82,512.25 596.43,512.34 597.04,512.42 597.65,512.50 598.26,512.58 598.87,512.65 599.48,512.73 600.10,512.81 600.71,512.88 601.32,512.95 601.93,513.02 602.54,513.09 603.16,513.16 603.77,513.22 604.38,513.28 605.00,513.35 605.61,513.41 606.23,513.47 606.84,513.53 607.46,513.59 608.07,513.64 608.69,513.70 609.30,513.75 609.92,513.80 610.53,513.85 611.15,513.90 611.76,513.95 612.38,514.00 613.00,514.05 613.61,514.09 614.23,514.14 614.85,514.18 615.46,514.22 616.08,514.26 616.70,514.30 617.31,514.34 617.93,514.38 618.55,514.42 619.17,514.46 619.78,514.49 620.40,514.53 621.02,514.56 621.64,514.60 622.26,514.63 622.87,514.66 623.49,514.69 624.11,514.72 624.73,514.75 625.34,514.78 625.96,514.81 626.58,514.84 627.20,514.86 627.82,514.89 628.43,514.92 629.05,514.94 629.67,514.97 630.29,514.99 630.91,515.01 631.52,515.04 632.14,515.06 632.76,515.08 633.38,515.10 633.99,515.12 634.61,515.15 635.23,515.17 635.85,515.19 636.46,515.21 637.08,515.23 637.70,515.25 638.31,515.27 638.93,515.29 639.55,515.30 640.16,515.32 640.78,515.34 641.40,515.36 642.01,515.38 642.63,515.40 643.24,515.42 643.86,515.43 644.47,515.45 645.09,515.47 645.70,515.49 646.32,515.51 646.93,515.52 647.55,515.54 648.16,515.56 648.77,515.58 649.39,515.60 650.00,515.62 650.61,515.64 651.23,515.66 651.84,515.68 652.45,515.69 653.06,515.71 653.67,515.74 654.28,515.76 654.90,515.78 655.51,515.80 656.12,515.82 656.73,515.84 657.34,515.86 657.94,515.89 658.55,515.91 659.16,515.93 659.77,515.96 660.38,515.98 660.98,516.01"/>
<polyline fill="none" stroke="#000" stroke-width="2.6" stroke-linejoin="round" stroke-linecap="round" points="455.86,517.10 457.01,517.01 458.12,516.87 459.18,516.67 460.19,516.42 461.16,516.13 462.08,515.79 462.96,515.40 463.81,514.97 464.61,514.50 465.38,513.99 466.11,513.44 466.80,512.85 467.46,512.23 468.10,511.58 468.70,510.89 469.27,510.18 469.81,509.44 470.33,508.67 470.82,507.88 471.29,507.07 471.74,506.23 472.17,505.37 472.58,504.50 472.97,503.61 473.35,502.71 473.71,501.80 474.05,500.87 474.39,499.94 474.72,499.00 475.03,498.05 475.34,497.10 475.64,496.15 475.94,495.19 476.23,494.24 476.52,493.29 476.81,492.33 477.09,491.38 477.37,490.43 477.64,489.48 477.91,488.53 478.18,487.58 478.44,486.63 478.70,485.68 478.96,484.73 479.21,483.78 479.46,482.84 479.71,481.89 479.95,480.94 480.19,479.99 480.43,479.04 480.66,478.10 480.89,477.15 481.12,476.20 481.35,475.26 481.57,474.31 481.79,473.36 482.00,472.42 482.22,471.47 482.43,470.52 482.63,469.58 482.84,468.63 483.04,467.69 483.24,466.74 483.44,465.79 483.64,464.85 483.83,463.90 484.02,462.95 484.21,462.01 484.40,461.06 484.58,460.11 484.76,459.16 484.95,458.22 485.12,457.27 485.30,456.32 485.48,455.37 485.65,454.42 485.82,453.48 485.99,452.53 486.16,451.58 486.33,450.63 486.49,449.68 486.65,448.73 486.82,447.78 486.98,446.82 487.14,445.87 487.30,444.92 487.45,443.97 487.61,443.01 487.76,442.06 487.92,441.11 488.07,440.15 488.22,439.20 488.37,438.24 488.52,437.28 488.67,436.33 488.82,435.37 488.97,434.41 489.12,433.45 489.27,432.49 489.41,431.53 489.56,430.57 489.70,429.61 489.85,428.64 489.99,427.68 490.14,426.72 490.28,425.75 490.43,424.78 490.57,423.82 490.72,422.85 490.86,421.88 491.01,420.91 491.16,419.95 491.31,418.98 491.47,418.01 491.63,417.05 491.79,416.08 491.95,415.11 492.12,414.15 492.30,413.19 492.47,412.23 492.66,411.27 492.85,410.31 493.04,409.35 493.24,408.40 493.45,407.44 493.67,406.49 493.89,405.55 494.12,404.60 494.36,403.66 494.61,402.72 494.87,401.78 495.13,400.85 495.41,399.92 495.69,399.00 495.99,398.07 496.30,397.16 496.62,396.24 496.95,395.33 497.29,394.43 497.65,393.53 498.01,392.63 498.39,391.74 498.79,390.85 499.20,389.97 499.62,389.10 500.06,388.23 500.51,387.37 500.98,386.51 501.46,385.66 501.96,384.81 502.48,383.97 503.01,383.14 503.56,382.31 504.13,381.50 504.72,380.68 505.32,379.88 505.95,379.10 506.60,378.37 507.29,377.73 508.02,377.23 508.79,376.90 509.62,376.78 510.51,376.90 511.43,377.22 512.36,377.71 513.26,378.34 514.12,379.07 514.90,379.85 515.59,380.66 516.19,381.49 516.71,382.35 517.17,383.22 517.57,384.11 517.93,385.00 518.25,385.91 518.55,386.83 518.84,387.74 519.12,388.66 519.40,389.58 519.68,390.51 519.96,391.43 520.23,392.35 520.51,393.28 520.78,394.20 521.05,395.13 521.32,396.05 521.59,396.98 521.86,397.91 522.12,398.84 522.39,399.77 522.65,400.70 522.92,401.63 523.18,402.56 523.45,403.49 523.71,404.42 523.97,405.36 524.23,406.29 524.50,407.22 524.76,408.15 525.02,409.09 525.28,410.02 525.55,410.96 525.81,411.89 526.07,412.82 526.34,413.76 526.60,414.69 526.87,415.63 527.13,416.56 527.40,417.50 527.67,418.43 527.93,419.36 528.20,420.30 528.47,421.23 528.75,422.16 529.02,423.10 529.29,424.03 529.57,424.96 529.85,425.89 530.13,426.82 530.41,427.75 530.69,428.68 530.98,429.61 531.27,430.54 531.56,431.47 531.85,432.39 532.15,433.32 532.44,434.25 532.74,435.17 533.04,436.09 533.35,437.02 533.66,437.94 533.97,438.86 534.28,439.78 534.60,440.70 534.92,441.61 535.24,442.53 535.57,443.45 535.90,444.36 536.23,445.27 536.57,446.18 536.91,447.09 537.26,448.00 537.60,448.91 537.96,449.81 538.31,450.72 538.68,451.62 539.04,452.52 539.41,453.42 539.79,454.32 540.16,455.21 540.55,456.11 540.94,457.00 541.33,457.89 541.73,458.78 542.13,459.66 542.54,460.55 542.95,461.43 543.37,462.31 543.79,463.19 544.22,464.07 544.66,464.94 545.10,465.81 545.54,466.68 545.99,467.55 546.45,468.42 546.92,469.28 547.38,470.14 547.86,471.00 548.35,471.85 548.84,472.70 549.34,473.54 549.85,474.38 550.37,475.20 550.90,476.02 551.44,476.83 551.99,477.63 552.56,478.42 553.13,479.19 553.73,479.95 554.33,480.70 554.96,481.43 555.59,482.14 556.25,482.84 556.92,483.52 557.61,484.18 558.31,484.82 559.04,485.44 559.79,486.03 560.55,486.61 561.34,487.16 562.15,487.69 562.98,488.19 563.83,488.66 564.71,489.11 565.60,489.53 566.51,489.95 567.41,490.37 568.32,490.79 569.21,491.23 570.09,491.70 570.94,492.20 571.76,492.74 572.55,493.32 573.32,493.93 574.06,494.57 574.80,495.23 575.51,495.91 576.22,496.60 576.92,497.29 577.63,497.98 578.33,498.66 579.04,499.34 579.76,499.99 580.50,500.63 581.25,501.23 582.02,501.80 582.81,502.34 583.63,502.85 584.45,503.33 585.30,503.78 586.16,504.21 587.03,504.61 587.92,504.99 588.82,505.35 589.73,505.68 590.65,506.00 591.58,506.29 592.51,506.57 593.46,506.84 594.40,507.09 595.36,507.32 596.31,507.55 597.27,507.76 598.23,507.97 599.19,508.16 600.15,508.35 601.12,508.53 602.08,508.71 603.04,508.87 604.00,509.04 604.96,509.19 605.93,509.34 606.89,509.48 607.85,509.62 608.81,509.75 609.78,509.87 610.74,509.99 611.71,510.11 612.67,510.22 613.63,510.33 614.60,510.44 615.56,510.54 616.53,510.64 617.49,510.73 618.46,510.82 619.43,510.91 620.39,511.00 621.36,511.09 622.32,511.17 623.29,511.25 624.26,511.34 625.22,511.42 626.19,511.50 627.16,511.58 628.12,511.66 629.09,511.74 630.06,511.82 631.02,511.90 631.99,511.98 632.96,512.06 633.93,512.14 634.89,512.23 635.86,512.31 636.83,512.39 637.80,512.48 638.76,512.56 639.73,512.64 640.70,512.72 641.67,512.80 642.63,512.88 643.60,512.96 644.57,513.04 645.54,513.12 646.51,513.20 647.47,513.27 648.44,513.35 649.41,513.42 650.38,513.49 651.34,513.56 652.31,513.62 653.28,513.69 654.25,513.75 655.21,513.81 656.18,513.87 657.15,513.92 658.11,513.98 659.08,514.03 660.05,514.07 661.01,514.12"/>
<polyline fill="none" stroke="#d8101a" stroke-width="2.4" stroke-linejoin="round" stroke-linecap="round" points="455.45,517.17 456.58,517.08 457.67,516.93 458.71,516.73 459.69,516.47 460.64,516.16 461.53,515.79 462.39,515.38 463.20,514.92 463.97,514.42 464.71,513.88 465.40,513.29 466.07,512.67 466.69,512.01 467.29,511.31 467.85,510.58 468.39,509.82 468.90,509.03 469.38,508.22 469.83,507.38 470.27,506.52 470.68,505.63 471.07,504.73 471.45,503.81 471.80,502.88 472.14,501.93 472.47,500.97 472.79,500.01 473.09,499.03 473.39,498.05 473.68,497.07 473.96,496.09 474.24,495.11 474.52,494.13 474.79,493.15 475.05,492.17 475.32,491.20 475.58,490.23 475.84,489.26 476.09,488.29 476.34,487.32 476.59,486.35 476.83,485.38 477.07,484.42 477.31,483.46 477.55,482.49 477.78,481.53 478.00,480.57 478.23,479.61 478.45,478.66 478.67,477.70 478.89,476.74 479.10,475.78 479.31,474.83 479.52,473.87 479.72,472.92 479.92,471.96 480.12,471.01 480.32,470.06 480.51,469.10 480.70,468.15 480.89,467.20 481.08,466.24 481.26,465.29 481.44,464.34 481.62,463.38 481.80,462.43 481.97,461.47 482.14,460.52 482.31,459.56 482.48,458.61 482.64,457.65 482.80,456.70 482.96,455.74 483.12,454.78 483.28,453.82 483.43,452.86 483.58,451.90 483.73,450.94 483.88,449.97 484.03,449.01 484.17,448.04 484.31,447.08 484.45,446.11 484.59,445.14 484.73,444.17 484.87,443.20 485.00,442.23 485.14,441.25 485.27,440.28 485.41,439.30 485.54,438.33 485.67,437.35 485.80,436.38 485.94,435.40 486.07,434.43 486.20,433.45 486.34,432.47 486.47,431.49 486.61,430.52 486.74,429.54 486.88,428.56 487.02,427.58 487.16,426.61 487.30,425.63 487.44,424.65 487.58,423.67 487.73,422.70 487.88,421.72 488.03,420.74 488.18,419.77 488.33,418.79 488.49,417.82 488.65,416.85 488.81,415.87 488.98,414.90 489.15,413.93 489.32,412.96 489.49,411.99 489.67,411.02 489.86,410.06 490.04,409.09 490.23,408.13 490.43,407.16 490.63,406.20 490.83,405.24 491.04,404.28 491.25,403.32 491.47,402.37 491.69,401.41 491.92,400.46 492.15,399.51 492.39,398.56 492.63,397.61 492.88,396.67 493.14,395.72 493.40,394.78 493.67,393.84 493.95,392.91 494.24,391.98 494.55,391.05 494.88,390.12 495.24,389.20 495.62,388.29 496.02,387.38 496.46,386.48 496.94,385.59 497.45,384.70 498.01,383.83 498.60,382.97 499.24,382.13 499.92,381.34 500.64,380.61 501.40,379.94 502.21,379.35 503.05,378.85 503.93,378.44 504.84,378.14 505.75,377.95 506.65,377.86 507.52,377.87 508.37,378.00 509.17,378.23 509.93,378.56 510.66,378.99 511.36,379.49 512.02,380.08 512.65,380.73 513.26,381.45 513.84,382.22 514.39,383.05 514.92,383.91 515.43,384.81 515.93,385.73 516.40,386.68 516.87,387.64 517.31,388.61 517.75,389.57 518.18,390.53 518.60,391.49 519.01,392.45 519.41,393.41 519.80,394.36 520.18,395.31 520.55,396.26 520.92,397.20 521.27,398.15 521.62,399.09 521.96,400.03 522.30,400.97 522.63,401.91 522.95,402.84 523.27,403.78 523.58,404.71 523.88,405.64 524.18,406.57 524.48,407.50 524.77,408.43 525.05,409.36 525.34,410.28 525.61,411.21 525.89,412.14 526.16,413.06 526.43,413.99 526.69,414.91 526.96,415.84 527.22,416.76 527.48,417.69 527.73,418.62 527.99,419.54 528.25,420.47 528.50,421.39 528.76,422.32 529.01,423.25 529.26,424.18 529.52,425.11 529.78,426.04 530.03,426.97 530.29,427.90 530.55,428.84 530.81,429.77 531.08,430.71 531.34,431.65 531.61,432.59 531.88,433.53 532.15,434.47 532.43,435.41 532.71,436.35 532.99,437.29 533.27,438.23 533.56,439.17 533.84,440.11 534.14,441.06 534.43,442.00 534.73,442.94 535.03,443.88 535.34,444.82 535.65,445.76 535.96,446.70 536.28,447.64 536.60,448.58 536.92,449.51 537.25,450.45 537.58,451.38 537.92,452.31 538.26,453.24 538.60,454.17 538.95,455.10 539.31,456.02 539.67,456.94 540.03,457.87 540.40,458.78 540.78,459.70 541.16,460.61 541.54,461.52 541.94,462.43 542.33,463.34 542.73,464.24 543.14,465.14 543.56,466.03 543.97,466.93 544.40,467.82 544.83,468.70 545.27,469.58 545.71,470.46 546.16,471.34 546.62,472.21 547.09,473.07 547.56,473.94 548.03,474.79 548.52,475.65 549.01,476.50 549.51,477.34 550.01,478.18 550.53,479.01 551.05,479.84 551.58,480.67 552.11,481.49 552.66,482.30 553.21,483.11 553.77,483.91 554.33,484.71 554.91,485.50 555.49,486.28 556.09,487.06 556.69,487.83 557.30,488.60 557.91,489.36 558.54,490.11 559.18,490.85 559.82,491.58 560.48,492.30 561.15,493.02 561.82,493.72 562.51,494.42 563.20,495.10 563.91,495.77 564.62,496.43 565.35,497.08 566.09,497.71 566.83,498.33 567.59,498.94 568.37,499.53 569.15,500.11 569.94,500.67 570.75,501.21 571.56,501.75 572.39,502.26 573.24,502.76 574.09,503.24 574.95,503.70 575.83,504.15 576.71,504.59 577.61,505.01 578.51,505.41 579.42,505.80 580.34,506.18 581.26,506.55 582.19,506.90 583.13,507.24 584.07,507.57 585.01,507.89 585.96,508.20 586.91,508.50 587.87,508.78 588.82,509.06 589.78,509.33 590.74,509.59 591.70,509.85 592.66,510.09 593.62,510.33 594.58,510.56 595.54,510.78 596.50,510.99 597.47,511.20 598.43,511.40 599.40,511.59 600.36,511.78 601.33,511.95 602.29,512.13 603.26,512.29 604.23,512.45 605.20,512.60 606.17,512.75 607.14,512.89 608.11,513.02 609.08,513.15 610.05,513.27 611.02,513.39 611.99,513.50 612.97,513.61 613.94,513.71 614.91,513.81 615.89,513.90 616.86,513.99 617.84,514.07 618.81,514.15 619.79,514.23 620.76,514.30 621.74,514.36 622.72,514.43 623.70,514.49 624.67,514.54 625.65,514.60 626.63,514.65 627.61,514.69 628.59,514.74 629.57,514.78 630.55,514.82 631.53,514.85 632.51,514.89 633.49,514.92 634.47,514.95 635.45,514.97 636.43,515.00 637.41,515.02 638.40,515.05 639.38,515.07 640.36,515.09 641.34,515.11 642.33,515.13 643.31,515.15 644.29,515.16 645.27,515.18 646.26,515.20 647.24,515.21 648.22,515.23 649.21,515.24 650.19,515.26 651.17,515.28 652.15,515.30 653.14,515.31 654.12,515.33 655.10,515.35 656.09,515.37 657.07,515.40 658.05,515.42 659.04,515.45 660.02,515.47 661.00,515.50"/>
<polyline fill="none" stroke="#26e326" stroke-width="2.4" stroke-linejoin="round" stroke-linecap="round" points="457.99,517.16 459.13,517.13 460.23,517.04 461.29,516.90 462.31,516.70 463.30,516.44 464.25,516.13 465.17,515.77 466.05,515.37 466.89,514.92 467.71,514.42 468.49,513.88 469.25,513.30 469.97,512.68 470.67,512.02 471.33,511.33 471.98,510.61 472.59,509.85 473.19,509.06 473.76,508.25 474.30,507.42 474.83,506.55 475.33,505.67 475.82,504.77 476.29,503.85 476.74,502.91 477.17,501.96 477.59,501.00 477.99,500.03 478.38,499.05 478.76,498.06 479.13,497.07 479.48,496.08 479.83,495.08 480.17,494.09 480.49,493.09 480.81,492.10 481.12,491.11 481.43,490.11 481.72,489.12 482.01,488.13 482.29,487.14 482.56,486.15 482.83,485.15 483.09,484.16 483.34,483.17 483.58,482.18 483.82,481.19 484.06,480.20 484.28,479.21 484.51,478.22 484.72,477.23 484.93,476.23 485.14,475.24 485.34,474.25 485.54,473.26 485.73,472.27 485.92,471.28 486.10,470.29 486.29,469.30 486.46,468.30 486.64,467.31 486.81,466.32 486.98,465.33 487.14,464.34 487.30,463.34 487.47,462.35 487.62,461.36 487.78,460.36 487.94,459.37 488.09,458.38 488.24,457.38 488.40,456.39 488.55,455.39 488.70,454.40 488.85,453.40 489.00,452.40 489.15,451.41 489.30,450.41 489.45,449.41 489.60,448.41 489.75,447.41 489.91,446.41 490.06,445.41 490.22,444.41 490.37,443.41 490.53,442.41 490.69,441.41 490.85,440.41 491.01,439.40 491.17,438.40 491.33,437.40 491.50,436.40 491.67,435.39 491.83,434.39 492.00,433.39 492.17,432.38 492.35,431.38 492.52,430.38 492.70,429.37 492.88,428.37 493.05,427.37 493.24,426.37 493.42,425.36 493.61,424.36 493.79,423.36 493.98,422.36 494.17,421.36 494.37,420.36 494.57,419.36 494.76,418.36 494.96,417.36 495.17,416.36 495.37,415.36 495.58,414.36 495.79,413.37 496.01,412.37 496.22,411.38 496.44,410.38 496.66,409.39 496.89,408.39 497.12,407.40 497.35,406.41 497.58,405.42 497.81,404.43 498.05,403.44 498.30,402.45 498.54,401.46 498.79,400.48 499.04,399.49 499.30,398.51 499.56,397.53 499.82,396.54 500.08,395.56 500.35,394.58 500.63,393.61 500.90,392.63 501.18,391.66 501.47,390.68 501.75,389.71 502.05,388.74 502.34,387.77 502.64,386.80 502.94,385.84 503.25,384.87 503.56,383.91 503.88,382.95 504.20,381.99 504.52,381.03 504.85,380.07 505.18,379.12 505.53,378.16 505.88,377.21 506.25,376.25 506.63,375.29 507.02,374.34 507.44,373.38 507.87,372.42 508.32,371.45 508.80,370.48 509.30,369.52 509.83,368.62 510.42,367.83 511.06,367.24 511.77,366.91 512.56,366.89 513.42,367.19 514.28,367.71 515.10,368.37 515.83,369.10 516.48,369.89 517.06,370.73 517.57,371.60 518.04,372.50 518.46,373.43 518.86,374.38 519.23,375.33 519.59,376.29 519.95,377.25 520.30,378.22 520.65,379.18 520.99,380.14 521.32,381.11 521.65,382.08 521.97,383.04 522.28,384.01 522.59,384.98 522.90,385.96 523.20,386.93 523.50,387.90 523.79,388.88 524.08,389.85 524.36,390.83 524.64,391.81 524.91,392.78 525.19,393.76 525.45,394.74 525.72,395.72 525.98,396.70 526.24,397.68 526.50,398.66 526.76,399.65 527.01,400.63 527.26,401.61 527.51,402.59 527.76,403.58 528.01,404.56 528.26,405.54 528.50,406.53 528.75,407.51 528.99,408.49 529.23,409.48 529.48,410.46 529.72,411.44 529.97,412.42 530.21,413.41 530.46,414.39 530.70,415.37 530.95,416.35 531.20,417.33 531.45,418.32 531.70,419.30 531.96,420.28 532.22,421.25 532.47,422.23 532.74,423.21 533.00,424.19 533.27,425.16 533.54,426.14 533.81,427.11 534.09,428.09 534.37,429.06 534.65,430.03 534.94,431.00 535.23,431.97 535.53,432.94 535.83,433.91 536.14,434.88 536.45,435.84 536.76,436.81 537.07,437.77 537.40,438.73 537.72,439.69 538.05,440.65 538.38,441.61 538.71,442.57 539.05,443.53 539.40,444.48 539.74,445.44 540.09,446.39 540.45,447.34 540.80,448.30 541.16,449.25 541.53,450.20 541.90,451.14 542.27,452.09 542.64,453.04 543.02,453.98 543.40,454.93 543.79,455.87 544.18,456.82 544.57,457.76 544.96,458.70 545.36,459.64 545.76,460.57 546.17,461.51 546.57,462.45 546.98,463.38 547.40,464.32 547.82,465.25 548.24,466.18 548.66,467.11 549.09,468.04 549.52,468.97 549.95,469.90 550.39,470.82 550.84,471.73 551.30,472.64 551.76,473.55 552.24,474.45 552.73,475.34 553.23,476.22 553.74,477.09 554.27,477.95 554.81,478.80 555.37,479.63 555.95,480.46 556.54,481.27 557.16,482.06 557.79,482.84 558.45,483.60 559.12,484.35 559.82,485.08 560.53,485.80 561.25,486.50 561.99,487.20 562.74,487.88 563.50,488.55 564.28,489.22 565.06,489.87 565.85,490.52 566.65,491.16 567.46,491.79 568.27,492.42 569.08,493.04 569.90,493.66 570.73,494.26 571.55,494.87 572.39,495.46 573.23,496.05 574.07,496.63 574.92,497.21 575.77,497.77 576.63,498.33 577.49,498.88 578.36,499.42 579.23,499.96 580.10,500.48 580.98,501.00 581.87,501.51 582.76,502.01 583.65,502.50 584.55,502.98 585.45,503.45 586.35,503.91 587.26,504.36 588.18,504.80 589.09,505.23 590.02,505.65 590.94,506.06 591.87,506.46 592.81,506.85 593.74,507.22 594.69,507.59 595.63,507.94 596.58,508.28 597.53,508.61 598.49,508.92 599.45,509.22 600.42,509.52 601.39,509.79 602.36,510.06 603.33,510.32 604.31,510.56 605.29,510.80 606.28,511.02 607.26,511.24 608.25,511.44 609.24,511.63 610.24,511.82 611.24,511.99 612.24,512.16 613.24,512.32 614.24,512.47 615.25,512.61 616.26,512.74 617.27,512.87 618.28,512.98 619.29,513.09 620.31,513.20 621.32,513.30 622.34,513.39 623.36,513.47 624.38,513.55 625.40,513.63 626.43,513.70 627.45,513.76 628.47,513.82 629.50,513.88 630.52,513.93 631.55,513.97 632.57,514.02 633.60,514.06 634.62,514.09 635.65,514.13 636.67,514.16 637.70,514.19 638.72,514.21 639.75,514.24 640.77,514.26 641.80,514.28 642.82,514.30 643.84,514.32 644.86,514.34 645.88,514.36 646.90,514.38 647.92,514.40 648.93,514.42 649.95,514.45 650.96,514.47 651.97,514.49 652.98,514.52 653.99,514.55 654.99,514.58 656.00,514.61 657.00,514.64 658.00,514.68 658.99,514.72 659.99,514.77 660.98,514.81"/>
</svg>
</body></html>
